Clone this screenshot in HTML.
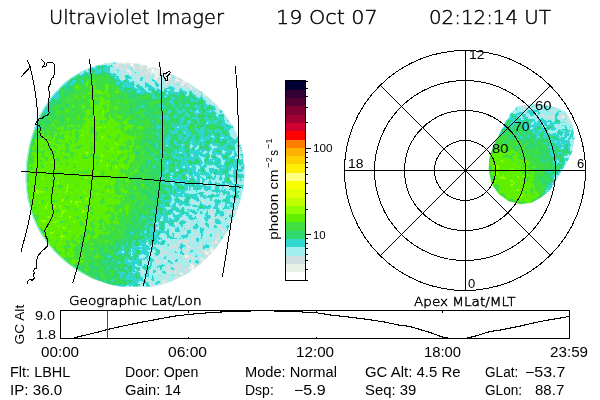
<!DOCTYPE html>
<html><head><meta charset="utf-8"><style>
html,body{margin:0;padding:0;background:#fff;width:600px;height:400px;overflow:hidden}
svg{display:block}
text{font-family:"Liberation Sans",sans-serif;fill:#000}
.h{font-family:"DejaVu Sans",sans-serif;font-weight:200;stroke:#000;stroke-width:0.45px}
.s,.c{font-family:"Liberation Sans",sans-serif}
</style></head><body>
<svg width="600" height="400" viewBox="0 0 600 400">
<rect width="600" height="400" fill="#fff"/>
<defs>
<clipPath id="dclip"><path d="M25.7 175.0 L25.8 171.3 L26.0 167.5 L26.3 163.8 L26.7 160.1 L27.2 156.4 L27.9 152.6 L28.5 149.0 L29.3 145.3 L30.2 141.6 L31.2 138.0 L32.3 134.3 L33.5 130.7 L34.8 127.1 L36.2 123.5 L37.7 120.0 L39.3 116.5 L41.1 113.0 L42.9 109.6 L44.9 106.2 L47.0 102.9 L49.3 99.6 L51.7 96.4 L54.2 93.4 L56.8 90.4 L59.6 87.5 L62.5 84.7 L65.5 82.1 L68.6 79.6 L71.9 77.2 L75.3 75.0 L78.7 73.0 L82.3 71.1 L86.0 69.4 L89.7 67.9 L93.5 66.5 L97.4 65.4 L101.3 64.4 L105.2 63.6 L109.2 63.0 L113.2 62.6 L117.2 62.3 L121.1 62.2 L125.1 62.3 L129.1 62.6 L133.0 63.0 L136.9 63.5 L140.8 64.2 L144.6 65.0 L148.3 65.9 L152.1 66.9 L155.7 68.0 L159.4 69.3 L162.9 70.6 L166.5 72.0 L170.0 73.5 L173.4 75.0 L176.8 76.6 L180.1 78.3 L183.4 80.1 L186.7 82.0 L189.9 83.9 L193.1 85.9 L196.2 88.0 L199.3 90.1 L202.4 92.3 L205.3 94.7 L208.3 97.1 L211.1 99.6 L213.9 102.1 L216.6 104.8 L219.3 107.6 L221.8 110.5 L224.2 113.5 L226.6 116.5 L228.8 119.7 L230.9 123.0 L232.9 126.3 L234.7 129.7 L236.4 133.2 L237.9 136.8 L239.3 140.5 L240.5 144.2 L241.6 147.9 L242.5 151.7 L243.2 155.6 L243.8 159.4 L244.2 163.3 L244.4 167.2 L244.5 171.1 L244.5 175.0 L244.3 178.9 L243.9 182.8 L243.4 186.6 L242.8 190.4 L242.0 194.2 L241.1 198.0 L240.1 201.7 L238.9 205.4 L237.7 209.0 L236.4 212.6 L234.9 216.2 L233.3 219.7 L231.7 223.1 L230.0 226.6 L228.1 229.9 L226.2 233.2 L224.2 236.5 L222.0 239.7 L219.8 242.8 L217.5 245.9 L215.1 248.9 L212.6 251.9 L210.0 254.8 L207.3 257.6 L204.5 260.3 L201.7 262.9 L198.7 265.4 L195.6 267.8 L192.4 270.1 L189.2 272.3 L185.8 274.4 L182.4 276.3 L178.9 278.1 L175.3 279.8 L171.7 281.3 L168.0 282.6 L164.2 283.8 L160.4 284.9 L156.5 285.8 L152.7 286.5 L148.8 286.8 L144.8 286.8 L140.9 286.8 L136.9 286.8 L133.0 286.8 L129.1 286.8 L125.2 286.8 L121.3 286.7 L117.4 286.1 L113.6 285.3 L109.8 284.4 L106.0 283.3 L102.3 282.1 L98.6 280.8 L95.0 279.4 L91.4 277.9 L87.9 276.2 L84.5 274.5 L81.1 272.6 L77.8 270.6 L74.6 268.5 L71.4 266.3 L68.3 264.1 L65.3 261.7 L62.4 259.2 L59.5 256.6 L56.8 253.9 L54.1 251.2 L51.6 248.3 L49.1 245.4 L46.8 242.4 L44.5 239.3 L42.4 236.1 L40.4 232.9 L38.5 229.5 L36.8 226.2 L35.2 222.7 L33.7 219.2 L32.3 215.7 L31.1 212.1 L30.0 208.5 L29.0 204.8 L28.2 201.1 L27.4 197.4 L26.9 193.7 L26.4 190.0 L26.1 186.2 L25.8 182.5 L25.7 178.7Z"/></clipPath>
<clipPath id="bclip"><polygon points="517.4,106.5 531.7,103.6 546,105 557.6,108 566.2,112.2 572,123.7 574.8,138 572,152.5 566.2,164 560.5,172.6 556,181.2 550.4,189.8 541.8,197 531.7,202.8 520.2,204.2 508.7,201.3 498.7,194.1 491.5,184 488.6,169.7 489.2,158.2 492.9,146.7 498.7,135.2 504.4,123.7 510.2,113.7"/></clipPath>
<filter id="qd" x="0" y="0" width="100%" height="100%" color-interpolation-filters="sRGB">
<feGaussianBlur in="SourceGraphic" stdDeviation="2.5" result="f"/>
<feComponentTransfer in="f" result="amp"><feFuncR type="linear" slope="-0.64" intercept="0.46"/><feFuncG type="linear" slope="-0.64" intercept="0.46"/><feFuncB type="linear" slope="-0.64" intercept="0.46"/></feComponentTransfer>
<feTurbulence type="fractalNoise" baseFrequency="0.2" numOctaves="2" seed="3"/>
<feColorMatrix type="matrix" values="1 0 0 0 0  1 0 0 0 0  1 0 0 0 0  0 0 0 0 1" result="n"/>
<feComposite in="n" in2="amp" operator="arithmetic" k1="1" k2="0" k3="-0.5" k4="0.5" result="nn"/>
<feComposite in="f" in2="nn" operator="arithmetic" k1="0" k2="1" k3="1" k4="-0.5"/>
<feComponentTransfer>
<feFuncR type="discrete" tableValues="1 0.91 0.816 0.627 0.188 0.188 0.251 0.376 0.565 0.753 0.878 0.973 1 1 1 1"/>
<feFuncG type="discrete" tableValues="1 0.941 0.878 0.941 0.847 0.847 0.878 0.941 1 1 1 1 1 0.933 0.816 0.69"/>
<feFuncB type="discrete" tableValues="1 0.91 0.878 0.941 0.816 0.439 0.251 0 0 0 0 0 0.502 0 0 0"/>
<feFuncA type="linear" slope="0" intercept="1"/>
</feComponentTransfer>
</filter>
<filter id="qb" x="0" y="0" width="100%" height="100%" color-interpolation-filters="sRGB">
<feGaussianBlur in="SourceGraphic" stdDeviation="2" result="f"/>
<feComponentTransfer in="f" result="amp"><feFuncR type="linear" slope="-0.64" intercept="0.46"/><feFuncG type="linear" slope="-0.64" intercept="0.46"/><feFuncB type="linear" slope="-0.64" intercept="0.46"/></feComponentTransfer>
<feTurbulence type="fractalNoise" baseFrequency="0.2" numOctaves="2" seed="7"/>
<feColorMatrix type="matrix" values="1 0 0 0 0  1 0 0 0 0  1 0 0 0 0  0 0 0 0 1" result="n"/>
<feComposite in="n" in2="amp" operator="arithmetic" k1="1" k2="0" k3="-0.5" k4="0.5" result="nn"/>
<feComposite in="f" in2="nn" operator="arithmetic" k1="0" k2="1" k3="1" k4="-0.5"/>
<feComponentTransfer>
<feFuncR type="discrete" tableValues="1 0.91 0.816 0.627 0.188 0.188 0.251 0.376 0.565 0.753 0.878 0.973 1 1 1 1"/>
<feFuncG type="discrete" tableValues="1 0.941 0.878 0.941 0.847 0.847 0.878 0.941 1 1 1 1 1 0.933 0.816 0.69"/>
<feFuncB type="discrete" tableValues="1 0.91 0.878 0.941 0.816 0.439 0.251 0 0 0 0 0 0.502 0 0 0"/>
<feFuncA type="linear" slope="0" intercept="1"/>
</feComponentTransfer>
</filter>
</defs>
<g clip-path="url(#dclip)"><g filter="url(#qd)" shape-rendering="crispEdges">
<path fill="#191919" d="M166 66h4v4h-4z"/>
<path fill="#1a1a1a" d="M158 62h4v4h-4zM162 62h4v4h-4zM158 66h4v4h-4zM162 66h4v4h-4zM170 66h4v4h-4zM166 70h4v4h-4z"/>
<path fill="#1b1b1b" d="M142 58h4v4h-4zM146 58h4v4h-4zM150 58h4v4h-4zM154 58h4v4h-4zM142 62h4v4h-4zM146 62h4v4h-4zM150 62h4v4h-4zM154 62h4v4h-4zM154 66h4v4h-4zM174 66h4v4h-4zM170 70h4v4h-4z"/>
<path fill="#1c1c1c" d="M138 58h4v4h-4zM138 62h4v4h-4zM150 66h4v4h-4zM174 70h4v4h-4zM174 74h4v4h-4z"/>
<path fill="#1d1d1d" d="M134 54h4v4h-4zM134 58h4v4h-4zM162 70h4v4h-4zM178 70h4v4h-4zM178 74h4v4h-4z"/>
<path fill="#1e1e1e" d="M126 54h4v4h-4zM130 54h4v4h-4zM126 58h4v4h-4zM130 58h4v4h-4zM134 62h4v4h-4zM146 66h4v4h-4zM182 70h4v4h-4zM170 74h4v4h-4zM182 74h4v4h-4z"/>
<path fill="#1f1f1f" d="M122 54h4v4h-4zM122 58h4v4h-4zM158 70h4v4h-4zM186 74h4v4h-4zM182 78h4v4h-4zM186 78h4v4h-4zM202 262h4v4h-4zM206 262h4v4h-4zM202 266h4v4h-4z"/>
<path fill="#202020" d="M130 62h4v4h-4zM142 66h4v4h-4zM166 74h4v4h-4zM190 74h4v4h-4zM190 78h4v4h-4zM190 82h4v4h-4zM206 258h4v4h-4zM210 262h4v4h-4zM194 266h4v4h-4zM198 266h4v4h-4zM198 270h4v4h-4z"/>
<path fill="#212121" d="M118 54h4v4h-4zM118 58h4v4h-4zM126 62h4v4h-4zM154 70h4v4h-4zM178 78h4v4h-4zM194 78h4v4h-4zM194 82h4v4h-4zM202 258h4v4h-4zM210 258h4v4h-4zM214 258h4v4h-4zM190 270h4v4h-4zM194 270h4v4h-4zM194 274h4v4h-4z"/>
<path fill="#222222" d="M122 62h4v4h-4zM138 66h4v4h-4zM162 74h4v4h-4zM198 82h4v4h-4zM210 254h4v4h-4zM214 254h4v4h-4zM190 274h4v4h-4z"/>
<path fill="#232323" d="M150 70h4v4h-4zM202 82h4v4h-4zM194 86h4v4h-4zM198 86h4v4h-4zM202 86h4v4h-4zM218 242h4v4h-4zM214 246h4v4h-4zM218 246h4v4h-4zM222 246h4v4h-4zM214 250h4v4h-4zM218 250h4v4h-4zM186 274h4v4h-4zM186 278h4v4h-4z"/>
<path fill="#242424" d="M118 62h4v4h-4zM134 66h4v4h-4zM146 70h4v4h-4zM174 78h4v4h-4zM206 86h4v4h-4zM202 90h4v4h-4zM206 90h4v4h-4zM210 90h4v4h-4zM206 94h4v4h-4zM210 94h4v4h-4zM222 238h4v4h-4zM222 242h4v4h-4zM226 242h4v4h-4zM210 250h4v4h-4zM198 262h4v4h-4zM182 274h4v4h-4zM182 278h4v4h-4zM182 282h4v4h-4z"/>
<path fill="#252525" d="M114 54h4v4h-4zM114 58h4v4h-4zM130 66h4v4h-4zM158 74h4v4h-4zM186 82h4v4h-4zM214 94h4v4h-4zM210 98h4v4h-4zM214 98h4v4h-4zM226 238h4v4h-4zM206 254h4v4h-4zM186 270h4v4h-4zM178 278h4v4h-4z"/>
<path fill="#262626" d="M142 70h4v4h-4zM170 78h4v4h-4zM218 98h4v4h-4zM214 102h4v4h-4zM218 102h4v4h-4zM226 230h4v4h-4zM222 234h4v4h-4zM226 234h4v4h-4zM190 266h4v4h-4zM178 282h4v4h-4z"/>
<path fill="#272727" d="M126 66h4v4h-4zM154 74h4v4h-4zM222 102h4v4h-4zM218 106h4v4h-4zM222 106h4v4h-4zM230 230h4v4h-4zM230 234h4v4h-4zM174 278h4v4h-4zM174 282h4v4h-4z"/>
<path fill="#282828" d="M122 66h4v4h-4zM138 70h4v4h-4zM166 78h4v4h-4zM182 82h4v4h-4zM226 106h4v4h-4zM222 110h4v4h-4zM226 110h4v4h-4zM230 110h4v4h-4zM226 114h4v4h-4zM230 222h4v4h-4zM234 222h4v4h-4zM238 222h4v4h-4zM230 226h4v4h-4zM234 226h4v4h-4zM198 258h4v4h-4zM194 262h4v4h-4zM174 286h4v4h-4z"/>
<path fill="#292929" d="M150 74h4v4h-4zM162 78h4v4h-4zM190 86h4v4h-4zM230 114h4v4h-4zM230 118h4v4h-4zM234 214h4v4h-4zM238 214h4v4h-4zM234 218h4v4h-4zM238 218h4v4h-4zM218 238h4v4h-4zM214 242h4v4h-4zM170 282h4v4h-4z"/>
<path fill="#2a2a2a" d="M114 62h4v4h-4zM118 66h4v4h-4zM134 70h4v4h-4zM234 118h4v4h-4zM230 122h4v4h-4zM234 122h4v4h-4zM238 122h4v4h-4zM238 210h4v4h-4zM242 210h4v4h-4zM206 250h4v4h-4zM202 254h4v4h-4zM182 270h4v4h-4zM178 274h4v4h-4zM170 286h4v4h-4z"/>
<path fill="#2b2b2b" d="M110 54h4v4h-4zM146 74h4v4h-4zM178 82h4v4h-4zM198 90h4v4h-4zM234 126h4v4h-4zM238 126h4v4h-4zM234 130h4v4h-4zM238 130h4v4h-4zM238 134h4v4h-4zM238 206h4v4h-4zM242 206h4v4h-4zM210 246h4v4h-4zM170 278h4v4h-4zM166 282h4v4h-4z"/>
<path fill="#2c2c2c" d="M110 58h4v4h-4zM130 70h4v4h-4zM142 74h4v4h-4zM158 78h4v4h-4zM202 94h4v4h-4zM242 130h4v4h-4zM242 134h4v4h-4zM238 138h4v4h-4zM242 138h4v4h-4zM242 142h4v4h-4zM246 142h4v4h-4zM238 202h4v4h-4zM234 210h4v4h-4zM230 218h4v4h-4zM226 226h4v4h-4zM222 230h4v4h-4zM166 286h4v4h-4z"/>
<path fill="#2d2d2d" d="M126 70h4v4h-4zM174 82h4v4h-4zM226 118h4v4h-4zM242 146h4v4h-4zM246 146h4v4h-4zM242 202h4v4h-4z"/>
<path fill="#2e2e2e" d="M138 74h4v4h-4zM154 78h4v4h-4zM186 86h4v4h-4zM238 142h4v4h-4zM242 150h4v4h-4zM242 198h4v4h-4zM246 198h4v4h-4zM162 282h4v4h-4z"/>
<path fill="#2f2f2f" d="M122 70h4v4h-4zM170 82h4v4h-4zM246 150h4v4h-4zM242 194h4v4h-4zM186 262h4v4h-4zM190 262h4v4h-4zM182 266h4v4h-4zM186 266h4v4h-4zM178 270h4v4h-4zM162 286h4v4h-4zM162 290h4v4h-4z"/>
<path fill="#303030" d="M106 54h4v4h-4zM110 62h4v4h-4zM134 74h4v4h-4zM150 78h4v4h-4zM166 82h4v4h-4zM242 154h4v4h-4zM246 154h4v4h-4zM242 190h4v4h-4zM246 190h4v4h-4zM246 194h4v4h-4zM234 206h4v4h-4zM226 222h4v4h-4zM218 234h4v4h-4zM178 258h4v4h-4zM182 258h4v4h-4zM186 258h4v4h-4zM190 258h4v4h-4zM194 258h4v4h-4zM174 262h4v4h-4zM178 262h4v4h-4zM182 262h4v4h-4zM174 266h4v4h-4zM178 266h4v4h-4zM174 270h4v4h-4zM174 274h4v4h-4zM166 278h4v4h-4z"/>
<path fill="#313131" d="M106 58h4v4h-4zM114 66h4v4h-4zM118 70h4v4h-4zM146 78h4v4h-4zM162 82h4v4h-4zM194 90h4v4h-4zM242 158h4v4h-4zM242 182h4v4h-4zM246 182h4v4h-4zM242 186h4v4h-4zM246 186h4v4h-4zM230 214h4v4h-4zM214 238h4v4h-4zM182 250h4v4h-4zM186 250h4v4h-4zM190 250h4v4h-4zM178 254h4v4h-4zM182 254h4v4h-4zM186 254h4v4h-4zM190 254h4v4h-4zM194 254h4v4h-4zM198 254h4v4h-4zM174 258h4v4h-4zM170 262h4v4h-4zM170 266h4v4h-4zM166 270h4v4h-4zM170 270h4v4h-4zM170 274h4v4h-4zM158 286h4v4h-4zM158 290h4v4h-4z"/>
<path fill="#323232" d="M130 74h4v4h-4zM246 158h4v4h-4zM246 178h4v4h-4zM250 178h4v4h-4zM238 198h4v4h-4zM182 246h4v4h-4zM186 246h4v4h-4zM190 246h4v4h-4zM174 250h4v4h-4zM178 250h4v4h-4zM194 250h4v4h-4zM198 250h4v4h-4zM170 254h4v4h-4zM174 254h4v4h-4zM166 258h4v4h-4zM170 258h4v4h-4zM166 262h4v4h-4zM166 266h4v4h-4zM166 274h4v4h-4zM158 282h4v4h-4z"/>
<path fill="#333333" d="M142 78h4v4h-4zM158 82h4v4h-4zM182 86h4v4h-4zM206 98h4v4h-4zM210 102h4v4h-4zM230 126h4v4h-4zM238 146h4v4h-4zM246 162h4v4h-4zM250 162h4v4h-4zM250 166h4v4h-4zM246 170h4v4h-4zM250 170h4v4h-4zM246 174h4v4h-4zM250 174h4v4h-4zM222 226h4v4h-4zM182 242h4v4h-4zM186 242h4v4h-4zM190 242h4v4h-4zM174 246h4v4h-4zM178 246h4v4h-4zM194 246h4v4h-4zM198 246h4v4h-4zM170 250h4v4h-4zM202 250h4v4h-4zM166 254h4v4h-4zM162 262h4v4h-4zM162 266h4v4h-4zM162 270h4v4h-4zM162 274h4v4h-4zM154 286h4v4h-4zM154 290h4v4h-4z"/>
<path fill="#343434" d="M126 74h4v4h-4zM138 78h4v4h-4zM218 110h4v4h-4zM246 166h4v4h-4zM186 238h4v4h-4zM190 238h4v4h-4zM178 242h4v4h-4zM194 242h4v4h-4zM198 242h4v4h-4zM170 246h4v4h-4zM202 246h4v4h-4zM166 250h4v4h-4zM162 258h4v4h-4zM162 278h4v4h-4z"/>
<path fill="#353535" d="M102 54h4v4h-4zM222 114h4v4h-4zM234 134h4v4h-4zM242 162h4v4h-4zM242 178h4v4h-4zM238 194h4v4h-4zM234 202h4v4h-4zM186 234h4v4h-4zM190 234h4v4h-4zM178 238h4v4h-4zM182 238h4v4h-4zM194 238h4v4h-4zM198 238h4v4h-4zM174 242h4v4h-4zM202 242h4v4h-4zM210 242h4v4h-4zM206 246h4v4h-4zM162 254h4v4h-4zM158 262h4v4h-4zM158 266h4v4h-4zM158 270h4v4h-4zM158 274h4v4h-4zM150 286h4v4h-4zM150 290h4v4h-4z"/>
<path fill="#363636" d="M106 62h4v4h-4zM122 74h4v4h-4zM154 82h4v4h-4zM178 86h4v4h-4zM242 166h4v4h-4zM242 174h4v4h-4zM190 230h4v4h-4zM182 234h4v4h-4zM194 234h4v4h-4zM198 234h4v4h-4zM202 234h4v4h-4zM174 238h4v4h-4zM202 238h4v4h-4zM206 238h4v4h-4zM210 238h4v4h-4zM170 242h4v4h-4zM206 242h4v4h-4zM166 246h4v4h-4zM162 250h4v4h-4zM158 258h4v4h-4zM158 278h4v4h-4zM154 282h4v4h-4z"/>
<path fill="#373737" d="M102 58h4v4h-4zM134 78h4v4h-4zM190 90h4v4h-4zM242 170h4v4h-4zM230 210h4v4h-4zM226 218h4v4h-4zM182 230h4v4h-4zM186 230h4v4h-4zM194 230h4v4h-4zM198 230h4v4h-4zM202 230h4v4h-4zM206 230h4v4h-4zM210 230h4v4h-4zM178 234h4v4h-4zM206 234h4v4h-4zM210 234h4v4h-4zM214 234h4v4h-4zM162 246h4v4h-4zM158 254h4v4h-4zM154 266h4v4h-4zM154 270h4v4h-4zM154 274h4v4h-4zM154 278h4v4h-4zM146 286h4v4h-4zM146 290h4v4h-4z"/>
<path fill="#383838" d="M110 66h4v4h-4zM150 82h4v4h-4zM174 86h4v4h-4zM198 94h4v4h-4zM214 106h4v4h-4zM238 150h4v4h-4zM238 190h4v4h-4zM202 222h4v4h-4zM206 222h4v4h-4zM210 222h4v4h-4zM182 226h4v4h-4zM186 226h4v4h-4zM190 226h4v4h-4zM194 226h4v4h-4zM198 226h4v4h-4zM202 226h4v4h-4zM206 226h4v4h-4zM210 226h4v4h-4zM214 226h4v4h-4zM178 230h4v4h-4zM214 230h4v4h-4zM218 230h4v4h-4zM174 234h4v4h-4zM170 238h4v4h-4zM166 242h4v4h-4zM158 250h4v4h-4zM154 258h4v4h-4zM154 262h4v4h-4z"/>
<path fill="#393939" d="M114 70h4v4h-4zM118 74h4v4h-4zM146 82h4v4h-4zM170 86h4v4h-4zM226 122h4v4h-4zM202 218h4v4h-4zM206 218h4v4h-4zM210 218h4v4h-4zM214 218h4v4h-4zM186 222h4v4h-4zM190 222h4v4h-4zM194 222h4v4h-4zM198 222h4v4h-4zM214 222h4v4h-4zM218 222h4v4h-4zM178 226h4v4h-4zM218 226h4v4h-4zM174 230h4v4h-4zM170 234h4v4h-4zM166 238h4v4h-4zM154 254h4v4h-4zM150 274h4v4h-4zM150 278h4v4h-4zM150 282h4v4h-4z"/>
<path fill="#3a3a3a" d="M130 78h4v4h-4zM142 82h4v4h-4zM162 86h4v4h-4zM166 86h4v4h-4zM234 138h4v4h-4zM202 214h4v4h-4zM206 214h4v4h-4zM210 214h4v4h-4zM214 214h4v4h-4zM194 218h4v4h-4zM198 218h4v4h-4zM218 218h4v4h-4zM182 222h4v4h-4zM222 222h4v4h-4zM162 242h4v4h-4zM158 246h4v4h-4zM154 250h4v4h-4zM150 262h4v4h-4zM150 266h4v4h-4zM150 270h4v4h-4zM142 286h4v4h-4zM142 290h4v4h-4z"/>
<path fill="#3b3b3b" d="M102 62h4v4h-4zM138 82h4v4h-4zM158 86h4v4h-4zM234 198h4v4h-4zM206 206h4v4h-4zM210 206h4v4h-4zM202 210h4v4h-4zM206 210h4v4h-4zM210 210h4v4h-4zM214 210h4v4h-4zM198 214h4v4h-4zM218 214h4v4h-4zM222 214h4v4h-4zM186 218h4v4h-4zM190 218h4v4h-4zM222 218h4v4h-4zM178 222h4v4h-4zM174 226h4v4h-4zM170 230h4v4h-4zM166 234h4v4h-4zM150 254h4v4h-4zM150 258h4v4h-4zM146 278h4v4h-4zM146 282h4v4h-4z"/>
<path fill="#3c3c3c" d="M98 58h4v4h-4zM126 78h4v4h-4zM186 90h4v4h-4zM230 130h4v4h-4zM238 154h4v4h-4zM238 186h4v4h-4zM206 202h4v4h-4zM210 202h4v4h-4zM214 202h4v4h-4zM202 206h4v4h-4zM214 206h4v4h-4zM218 206h4v4h-4zM198 210h4v4h-4zM218 210h4v4h-4zM222 210h4v4h-4zM190 214h4v4h-4zM194 214h4v4h-4zM226 214h4v4h-4zM182 218h4v4h-4zM170 226h4v4h-4zM162 238h4v4h-4zM158 242h4v4h-4zM154 246h4v4h-4zM146 270h4v4h-4zM146 274h4v4h-4z"/>
<path fill="#3d3d3d" d="M202 198h4v4h-4zM206 198h4v4h-4zM210 198h4v4h-4zM214 198h4v4h-4zM198 202h4v4h-4zM202 202h4v4h-4zM218 202h4v4h-4zM194 206h4v4h-4zM198 206h4v4h-4zM222 206h4v4h-4zM226 206h4v4h-4zM190 210h4v4h-4zM194 210h4v4h-4zM226 210h4v4h-4zM182 214h4v4h-4zM186 214h4v4h-4zM178 218h4v4h-4zM174 222h4v4h-4zM166 230h4v4h-4zM150 250h4v4h-4zM146 258h4v4h-4zM146 262h4v4h-4zM146 266h4v4h-4zM142 282h4v4h-4z"/>
<path fill="#3e3e3e" d="M98 62h4v4h-4zM106 66h4v4h-4zM122 78h4v4h-4zM134 82h4v4h-4zM154 86h4v4h-4zM238 182h4v4h-4zM202 194h4v4h-4zM206 194h4v4h-4zM210 194h4v4h-4zM214 194h4v4h-4zM198 198h4v4h-4zM218 198h4v4h-4zM194 202h4v4h-4zM222 202h4v4h-4zM226 202h4v4h-4zM190 206h4v4h-4zM230 206h4v4h-4zM186 210h4v4h-4zM174 218h4v4h-4zM170 222h4v4h-4zM166 226h4v4h-4zM162 234h4v4h-4zM146 254h4v4h-4zM142 278h4v4h-4zM138 290h4v4h-4z"/>
<path fill="#3f3f3f" d="M90 58h4v4h-4zM94 58h4v4h-4zM90 62h4v4h-4zM94 62h4v4h-4zM202 98h4v4h-4zM210 186h4v4h-4zM202 190h4v4h-4zM206 190h4v4h-4zM210 190h4v4h-4zM214 190h4v4h-4zM198 194h4v4h-4zM218 194h4v4h-4zM194 198h4v4h-4zM222 198h4v4h-4zM226 198h4v4h-4zM190 202h4v4h-4zM230 202h4v4h-4zM186 206h4v4h-4zM182 210h4v4h-4zM178 214h4v4h-4zM162 230h4v4h-4zM158 238h4v4h-4zM154 242h4v4h-4zM150 246h4v4h-4zM146 250h4v4h-4zM142 274h4v4h-4zM138 286h4v4h-4z"/>
<path fill="#404040" d="M78 62h4v4h-4zM82 62h4v4h-4zM86 62h4v4h-4zM86 66h4v4h-4zM150 86h4v4h-4zM222 118h4v4h-4zM238 158h4v4h-4zM238 178h4v4h-4zM206 182h4v4h-4zM210 182h4v4h-4zM214 182h4v4h-4zM202 186h4v4h-4zM206 186h4v4h-4zM214 186h4v4h-4zM218 186h4v4h-4zM198 190h4v4h-4zM218 190h4v4h-4zM222 190h4v4h-4zM194 194h4v4h-4zM222 194h4v4h-4zM226 194h4v4h-4zM190 198h4v4h-4zM230 198h4v4h-4zM186 202h4v4h-4zM182 206h4v4h-4zM178 210h4v4h-4zM174 214h4v4h-4zM170 218h4v4h-4zM166 222h4v4h-4zM142 266h4v4h-4zM142 270h4v4h-4z"/>
<path fill="#414141" d="M70 66h4v4h-4zM74 66h4v4h-4zM78 66h4v4h-4zM82 66h4v4h-4zM66 70h4v4h-4zM70 70h4v4h-4zM74 70h4v4h-4zM78 70h4v4h-4zM110 70h4v4h-4zM130 82h4v4h-4zM146 86h4v4h-4zM234 142h4v4h-4zM202 178h4v4h-4zM206 178h4v4h-4zM210 178h4v4h-4zM214 178h4v4h-4zM218 178h4v4h-4zM202 182h4v4h-4zM218 182h4v4h-4zM198 186h4v4h-4zM222 186h4v4h-4zM194 190h4v4h-4zM226 190h4v4h-4zM190 194h4v4h-4zM230 194h4v4h-4zM186 198h4v4h-4zM182 202h4v4h-4zM178 206h4v4h-4zM174 210h4v4h-4zM162 226h4v4h-4zM158 234h4v4h-4zM146 246h4v4h-4zM142 254h4v4h-4zM142 258h4v4h-4zM142 262h4v4h-4zM138 282h4v4h-4z"/>
<path fill="#424242" d="M62 74h4v4h-4zM66 74h4v4h-4zM70 74h4v4h-4zM62 78h4v4h-4zM66 78h4v4h-4zM142 86h4v4h-4zM182 90h4v4h-4zM194 94h4v4h-4zM206 174h4v4h-4zM210 174h4v4h-4zM214 174h4v4h-4zM198 178h4v4h-4zM222 178h4v4h-4zM198 182h4v4h-4zM222 182h4v4h-4zM226 182h4v4h-4zM194 186h4v4h-4zM226 186h4v4h-4zM190 190h4v4h-4zM230 190h4v4h-4zM234 190h4v4h-4zM186 194h4v4h-4zM234 194h4v4h-4zM170 214h4v4h-4zM166 218h4v4h-4zM154 238h4v4h-4zM150 242h4v4h-4zM142 250h4v4h-4zM138 278h4v4h-4z"/>
<path fill="#434343" d="M114 74h4v4h-4zM54 78h4v4h-4zM58 78h4v4h-4zM118 78h4v4h-4zM54 82h4v4h-4zM58 82h4v4h-4zM138 86h4v4h-4zM238 162h4v4h-4zM206 170h4v4h-4zM210 170h4v4h-4zM214 170h4v4h-4zM202 174h4v4h-4zM218 174h4v4h-4zM238 174h4v4h-4zM226 178h4v4h-4zM194 182h4v4h-4zM230 182h4v4h-4zM190 186h4v4h-4zM230 186h4v4h-4zM234 186h4v4h-4zM186 190h4v4h-4zM182 198h4v4h-4zM178 202h4v4h-4zM174 206h4v4h-4zM170 210h4v4h-4zM162 222h4v4h-4zM158 230h4v4h-4zM138 274h4v4h-4z"/>
<path fill="#444444" d="M102 66h4v4h-4zM50 82h4v4h-4zM126 82h4v4h-4zM50 86h4v4h-4zM54 86h4v4h-4zM46 90h4v4h-4zM50 90h4v4h-4zM42 94h4v4h-4zM46 94h4v4h-4zM50 94h4v4h-4zM38 98h4v4h-4zM42 98h4v4h-4zM46 98h4v4h-4zM38 102h4v4h-4zM42 102h4v4h-4zM206 102h4v4h-4zM206 162h4v4h-4zM210 162h4v4h-4zM206 166h4v4h-4zM210 166h4v4h-4zM214 166h4v4h-4zM238 166h4v4h-4zM202 170h4v4h-4zM218 170h4v4h-4zM238 170h4v4h-4zM198 174h4v4h-4zM222 174h4v4h-4zM190 178h4v4h-4zM194 178h4v4h-4zM230 178h4v4h-4zM190 182h4v4h-4zM234 182h4v4h-4zM186 186h4v4h-4zM182 194h4v4h-4zM178 198h4v4h-4zM166 214h4v4h-4zM158 226h4v4h-4zM154 234h4v4h-4zM142 246h4v4h-4zM138 258h4v4h-4zM138 266h4v4h-4zM138 270h4v4h-4z"/>
<path fill="#454545" d="M74 74h4v4h-4zM58 86h4v4h-4zM38 106h4v4h-4zM218 114h4v4h-4zM206 154h4v4h-4zM210 154h4v4h-4zM206 158h4v4h-4zM210 158h4v4h-4zM214 158h4v4h-4zM202 162h4v4h-4zM214 162h4v4h-4zM202 166h4v4h-4zM198 170h4v4h-4zM222 170h4v4h-4zM194 174h4v4h-4zM226 174h4v4h-4zM234 178h4v4h-4zM186 182h4v4h-4zM182 190h4v4h-4zM174 202h4v4h-4zM170 206h4v4h-4zM162 218h4v4h-4zM150 238h4v4h-4zM146 242h4v4h-4zM138 250h4v4h-4zM138 254h4v4h-4zM138 262h4v4h-4zM134 286h4v4h-4zM134 290h4v4h-4z"/>
<path fill="#464646" d="M90 66h4v4h-4zM82 70h4v4h-4zM134 86h4v4h-4zM158 90h4v4h-4zM162 90h4v4h-4zM178 90h4v4h-4zM34 106h4v4h-4zM38 110h4v4h-4zM226 126h4v4h-4zM230 134h4v4h-4zM202 150h4v4h-4zM206 150h4v4h-4zM210 150h4v4h-4zM214 150h4v4h-4zM202 154h4v4h-4zM214 154h4v4h-4zM202 158h4v4h-4zM218 162h4v4h-4zM198 166h4v4h-4zM218 166h4v4h-4zM190 174h4v4h-4zM230 174h4v4h-4zM234 174h4v4h-4zM186 178h4v4h-4zM182 182h4v4h-4zM182 186h4v4h-4zM178 194h4v4h-4zM166 210h4v4h-4zM154 230h4v4h-4zM134 282h4v4h-4z"/>
<path fill="#474747" d="M94 66h4v4h-4zM62 82h4v4h-4zM122 82h4v4h-4zM166 90h4v4h-4zM170 90h4v4h-4zM174 90h4v4h-4zM34 110h4v4h-4zM206 146h4v4h-4zM210 146h4v4h-4zM198 154h4v4h-4zM218 154h4v4h-4zM198 158h4v4h-4zM218 158h4v4h-4zM198 162h4v4h-4zM222 166h4v4h-4zM194 170h4v4h-4zM226 170h4v4h-4zM186 174h4v4h-4zM182 178h4v4h-4zM178 190h4v4h-4zM174 198h4v4h-4zM170 202h4v4h-4zM158 222h4v4h-4zM134 274h4v4h-4zM134 278h4v4h-4z"/>
<path fill="#484848" d="M154 90h4v4h-4zM46 102h4v4h-4zM202 146h4v4h-4zM214 146h4v4h-4zM198 150h4v4h-4zM218 150h4v4h-4zM222 158h4v4h-4zM194 162h4v4h-4zM222 162h4v4h-4zM194 166h4v4h-4zM226 166h4v4h-4zM190 170h4v4h-4zM230 170h4v4h-4zM234 170h4v4h-4zM178 182h4v4h-4zM178 186h4v4h-4zM174 194h4v4h-4zM166 206h4v4h-4zM162 214h4v4h-4zM154 226h4v4h-4zM150 234h4v4h-4zM142 242h4v4h-4zM138 246h4v4h-4zM134 254h4v4h-4zM134 258h4v4h-4zM134 262h4v4h-4zM134 266h4v4h-4zM134 270h4v4h-4z"/>
<path fill="#494949" d="M98 66h4v4h-4zM106 70h4v4h-4zM54 90h4v4h-4zM214 110h4v4h-4zM34 114h4v4h-4zM198 146h4v4h-4zM218 146h4v4h-4zM234 146h4v4h-4zM194 150h4v4h-4zM222 150h4v4h-4zM194 154h4v4h-4zM222 154h4v4h-4zM194 158h4v4h-4zM226 158h4v4h-4zM226 162h4v4h-4zM190 166h4v4h-4zM230 166h4v4h-4zM234 166h4v4h-4zM186 170h4v4h-4zM182 174h4v4h-4zM178 178h4v4h-4zM174 190h4v4h-4zM170 198h4v4h-4zM158 218h4v4h-4zM146 238h4v4h-4zM134 250h4v4h-4z"/>
<path fill="#4a4a4a" d="M86 70h4v4h-4zM70 78h4v4h-4zM130 86h4v4h-4zM150 90h4v4h-4zM42 106h4v4h-4zM210 106h4v4h-4zM30 114h4v4h-4zM38 114h4v4h-4zM34 118h4v4h-4zM202 142h4v4h-4zM206 142h4v4h-4zM210 142h4v4h-4zM194 146h4v4h-4zM222 146h4v4h-4zM190 150h4v4h-4zM226 150h4v4h-4zM190 154h4v4h-4zM226 154h4v4h-4zM230 154h4v4h-4zM190 158h4v4h-4zM230 158h4v4h-4zM234 158h4v4h-4zM190 162h4v4h-4zM230 162h4v4h-4zM234 162h4v4h-4zM186 166h4v4h-4zM182 170h4v4h-4zM178 174h4v4h-4zM174 182h4v4h-4zM174 186h4v4h-4zM166 202h4v4h-4zM162 210h4v4h-4zM150 230h4v4h-4z"/>
<path fill="#4b4b4b" d="M78 74h4v4h-4zM66 82h4v4h-4zM142 90h4v4h-4zM146 90h4v4h-4zM190 94h4v4h-4zM30 118h4v4h-4zM198 142h4v4h-4zM214 142h4v4h-4zM190 146h4v4h-4zM226 146h4v4h-4zM230 146h4v4h-4zM186 150h4v4h-4zM230 150h4v4h-4zM234 150h4v4h-4zM186 154h4v4h-4zM234 154h4v4h-4zM186 158h4v4h-4zM186 162h4v4h-4zM182 166h4v4h-4zM174 178h4v4h-4zM170 190h4v4h-4zM170 194h4v4h-4zM154 222h4v4h-4zM146 234h4v4h-4zM138 242h4v4h-4zM134 246h4v4h-4zM130 270h4v4h-4zM130 274h4v4h-4zM130 278h4v4h-4zM130 282h4v4h-4zM130 286h4v4h-4zM130 290h4v4h-4z"/>
<path fill="#4c4c4c" d="M110 74h4v4h-4zM138 90h4v4h-4zM50 98h4v4h-4zM34 122h4v4h-4zM190 142h4v4h-4zM194 142h4v4h-4zM218 142h4v4h-4zM222 142h4v4h-4zM226 142h4v4h-4zM230 142h4v4h-4zM186 146h4v4h-4zM182 150h4v4h-4zM182 154h4v4h-4zM182 158h4v4h-4zM182 162h4v4h-4zM178 170h4v4h-4zM174 174h4v4h-4zM170 182h4v4h-4zM170 186h4v4h-4zM166 198h4v4h-4zM162 206h4v4h-4zM158 214h4v4h-4zM150 226h4v4h-4zM142 238h4v4h-4zM130 250h4v4h-4zM130 254h4v4h-4zM130 258h4v4h-4zM130 262h4v4h-4zM130 266h4v4h-4z"/>
<path fill="#4d4d4d" d="M62 86h4v4h-4zM54 94h4v4h-4zM26 122h4v4h-4zM30 122h4v4h-4zM190 138h4v4h-4zM194 138h4v4h-4zM198 138h4v4h-4zM202 138h4v4h-4zM206 138h4v4h-4zM210 138h4v4h-4zM214 138h4v4h-4zM182 142h4v4h-4zM186 142h4v4h-4zM182 146h4v4h-4zM178 150h4v4h-4zM178 154h4v4h-4zM178 158h4v4h-4zM178 162h4v4h-4zM178 166h4v4h-4zM174 170h4v4h-4zM170 178h4v4h-4zM166 194h4v4h-4zM154 218h4v4h-4z"/>
<path fill="#4e4e4e" d="M90 70h4v4h-4zM114 78h4v4h-4zM118 82h4v4h-4zM126 86h4v4h-4zM58 90h4v4h-4zM42 110h4v4h-4zM30 126h4v4h-4zM182 130h4v4h-4zM186 130h4v4h-4zM190 130h4v4h-4zM194 130h4v4h-4zM198 130h4v4h-4zM178 134h4v4h-4zM182 134h4v4h-4zM186 134h4v4h-4zM190 134h4v4h-4zM194 134h4v4h-4zM198 134h4v4h-4zM202 134h4v4h-4zM206 134h4v4h-4zM178 138h4v4h-4zM182 138h4v4h-4zM186 138h4v4h-4zM218 138h4v4h-4zM222 138h4v4h-4zM226 138h4v4h-4zM230 138h4v4h-4zM178 142h4v4h-4zM178 146h4v4h-4zM174 158h4v4h-4zM174 162h4v4h-4zM174 166h4v4h-4zM170 174h4v4h-4zM166 182h4v4h-4zM166 186h4v4h-4zM166 190h4v4h-4zM162 202h4v4h-4zM158 210h4v4h-4zM150 222h4v4h-4zM146 230h4v4h-4zM134 242h4v4h-4zM130 246h4v4h-4zM126 254h4v4h-4zM126 258h4v4h-4zM126 262h4v4h-4zM126 266h4v4h-4zM126 270h4v4h-4zM126 274h4v4h-4zM126 286h4v4h-4z"/>
<path fill="#4f4f4f" d="M46 106h4v4h-4zM178 122h4v4h-4zM182 122h4v4h-4zM186 122h4v4h-4zM190 122h4v4h-4zM194 122h4v4h-4zM198 122h4v4h-4zM26 126h4v4h-4zM174 126h4v4h-4zM178 126h4v4h-4zM182 126h4v4h-4zM186 126h4v4h-4zM190 126h4v4h-4zM194 126h4v4h-4zM198 126h4v4h-4zM202 126h4v4h-4zM206 126h4v4h-4zM174 130h4v4h-4zM178 130h4v4h-4zM202 130h4v4h-4zM206 130h4v4h-4zM210 130h4v4h-4zM214 130h4v4h-4zM170 134h4v4h-4zM174 134h4v4h-4zM210 134h4v4h-4zM214 134h4v4h-4zM218 134h4v4h-4zM222 134h4v4h-4zM226 134h4v4h-4zM170 138h4v4h-4zM174 138h4v4h-4zM170 142h4v4h-4zM174 142h4v4h-4zM174 146h4v4h-4zM174 150h4v4h-4zM174 154h4v4h-4zM170 166h4v4h-4zM170 170h4v4h-4zM166 178h4v4h-4zM146 226h4v4h-4zM142 234h4v4h-4zM138 238h4v4h-4zM126 250h4v4h-4zM126 278h4v4h-4zM126 282h4v4h-4zM126 290h4v4h-4z"/>
<path fill="#505050" d="M102 70h4v4h-4zM134 90h4v4h-4zM198 98h4v4h-4zM178 118h4v4h-4zM182 118h4v4h-4zM186 118h4v4h-4zM190 118h4v4h-4zM194 118h4v4h-4zM198 118h4v4h-4zM202 118h4v4h-4zM206 118h4v4h-4zM210 118h4v4h-4zM214 118h4v4h-4zM218 118h4v4h-4zM170 122h4v4h-4zM174 122h4v4h-4zM202 122h4v4h-4zM206 122h4v4h-4zM210 122h4v4h-4zM214 122h4v4h-4zM218 122h4v4h-4zM222 122h4v4h-4zM170 126h4v4h-4zM210 126h4v4h-4zM214 126h4v4h-4zM218 126h4v4h-4zM222 126h4v4h-4zM30 130h4v4h-4zM170 130h4v4h-4zM218 130h4v4h-4zM222 130h4v4h-4zM226 130h4v4h-4zM170 146h4v4h-4zM170 150h4v4h-4zM170 154h4v4h-4zM170 158h4v4h-4zM170 162h4v4h-4zM166 170h4v4h-4zM166 174h4v4h-4zM162 198h4v4h-4zM154 214h4v4h-4zM126 246h4v4h-4zM122 286h4v4h-4z"/>
<path fill="#515151" d="M82 74h4v4h-4zM74 78h4v4h-4zM122 86h4v4h-4zM202 106h4v4h-4zM206 106h4v4h-4zM186 110h4v4h-4zM190 110h4v4h-4zM194 110h4v4h-4zM198 110h4v4h-4zM202 110h4v4h-4zM206 110h4v4h-4zM210 110h4v4h-4zM174 114h4v4h-4zM178 114h4v4h-4zM182 114h4v4h-4zM186 114h4v4h-4zM190 114h4v4h-4zM194 114h4v4h-4zM198 114h4v4h-4zM202 114h4v4h-4zM206 114h4v4h-4zM210 114h4v4h-4zM214 114h4v4h-4zM38 118h4v4h-4zM170 118h4v4h-4zM174 118h4v4h-4zM166 126h4v4h-4zM26 130h4v4h-4zM166 130h4v4h-4zM166 134h4v4h-4zM166 138h4v4h-4zM166 142h4v4h-4zM166 146h4v4h-4zM166 150h4v4h-4zM166 154h4v4h-4zM166 158h4v4h-4zM166 162h4v4h-4zM166 166h4v4h-4zM162 178h4v4h-4zM162 182h4v4h-4zM162 186h4v4h-4zM162 190h4v4h-4zM162 194h4v4h-4zM158 206h4v4h-4zM150 218h4v4h-4zM146 222h4v4h-4zM142 230h4v4h-4zM138 234h4v4h-4zM134 238h4v4h-4zM130 242h4v4h-4zM122 250h4v4h-4zM122 254h4v4h-4zM122 258h4v4h-4zM122 262h4v4h-4zM122 266h4v4h-4zM122 270h4v4h-4zM122 274h4v4h-4zM122 278h4v4h-4zM118 286h4v4h-4zM122 290h4v4h-4z"/>
<path fill="#525252" d="M94 70h4v4h-4zM194 102h4v4h-4zM198 102h4v4h-4zM202 102h4v4h-4zM178 106h4v4h-4zM182 106h4v4h-4zM186 106h4v4h-4zM190 106h4v4h-4zM194 106h4v4h-4zM198 106h4v4h-4zM174 110h4v4h-4zM178 110h4v4h-4zM182 110h4v4h-4zM170 114h4v4h-4zM166 118h4v4h-4zM166 122h4v4h-4zM162 170h4v4h-4zM162 174h4v4h-4zM158 202h4v4h-4zM142 226h4v4h-4zM122 282h4v4h-4zM110 286h4v4h-4zM114 286h4v4h-4zM110 290h4v4h-4zM114 290h4v4h-4zM118 290h4v4h-4z"/>
<path fill="#535353" d="M70 82h4v4h-4zM182 98h4v4h-4zM186 98h4v4h-4zM190 98h4v4h-4zM194 98h4v4h-4zM174 102h4v4h-4zM178 102h4v4h-4zM182 102h4v4h-4zM186 102h4v4h-4zM190 102h4v4h-4zM170 106h4v4h-4zM174 106h4v4h-4zM170 110h4v4h-4zM166 114h4v4h-4zM34 126h4v4h-4zM162 142h4v4h-4zM162 146h4v4h-4zM162 150h4v4h-4zM162 154h4v4h-4zM162 158h4v4h-4zM162 162h4v4h-4zM162 166h4v4h-4zM154 210h4v4h-4zM138 230h4v4h-4zM126 242h4v4h-4zM122 246h4v4h-4zM118 254h4v4h-4zM118 258h4v4h-4zM118 262h4v4h-4zM118 266h4v4h-4zM118 270h4v4h-4zM78 274h4v4h-4zM82 274h4v4h-4zM118 274h4v4h-4zM78 278h4v4h-4zM82 278h4v4h-4zM86 278h4v4h-4zM90 278h4v4h-4zM86 282h4v4h-4zM90 282h4v4h-4zM102 282h4v4h-4zM106 282h4v4h-4zM94 286h4v4h-4zM102 286h4v4h-4zM106 286h4v4h-4zM106 290h4v4h-4z"/>
<path fill="#545454" d="M130 90h4v4h-4zM178 94h4v4h-4zM182 94h4v4h-4zM186 94h4v4h-4zM174 98h4v4h-4zM178 98h4v4h-4zM50 102h4v4h-4zM170 102h4v4h-4zM166 106h4v4h-4zM166 110h4v4h-4zM162 118h4v4h-4zM162 122h4v4h-4zM162 126h4v4h-4zM162 130h4v4h-4zM26 134h4v4h-4zM162 134h4v4h-4zM162 138h4v4h-4zM158 194h4v4h-4zM158 198h4v4h-4zM150 214h4v4h-4zM146 218h4v4h-4zM142 222h4v4h-4zM134 234h4v4h-4zM130 238h4v4h-4zM118 250h4v4h-4zM78 270h4v4h-4zM74 274h4v4h-4zM86 274h4v4h-4zM94 278h4v4h-4zM118 278h4v4h-4zM94 282h4v4h-4zM98 282h4v4h-4zM118 282h4v4h-4zM98 286h4v4h-4z"/>
<path fill="#555555" d="M98 70h4v4h-4zM158 94h4v4h-4zM174 94h4v4h-4zM54 98h4v4h-4zM170 98h4v4h-4zM166 102h4v4h-4zM162 110h4v4h-4zM42 114h4v4h-4zM162 114h4v4h-4zM22 134h4v4h-4zM158 154h4v4h-4zM158 158h4v4h-4zM158 162h4v4h-4zM158 166h4v4h-4zM158 170h4v4h-4zM158 174h4v4h-4zM158 178h4v4h-4zM158 182h4v4h-4zM158 186h4v4h-4zM158 190h4v4h-4zM154 206h4v4h-4zM138 226h4v4h-4zM114 258h4v4h-4zM114 262h4v4h-4zM114 266h4v4h-4zM114 270h4v4h-4zM114 274h4v4h-4z"/>
<path fill="#565656" d="M106 74h4v4h-4zM154 94h4v4h-4zM170 94h4v4h-4zM166 98h4v4h-4zM162 102h4v4h-4zM162 106h4v4h-4zM26 138h4v4h-4zM158 146h4v4h-4zM158 150h4v4h-4zM154 202h4v4h-4zM142 218h4v4h-4zM138 222h4v4h-4zM134 230h4v4h-4zM122 242h4v4h-4zM118 246h4v4h-4zM114 254h4v4h-4zM74 270h4v4h-4zM70 274h4v4h-4zM114 278h4v4h-4zM114 282h4v4h-4z"/>
<path fill="#575757" d="M86 74h4v4h-4zM66 86h4v4h-4zM62 90h4v4h-4zM166 94h4v4h-4zM162 98h4v4h-4zM158 110h4v4h-4zM158 114h4v4h-4zM158 118h4v4h-4zM158 122h4v4h-4zM158 126h4v4h-4zM158 130h4v4h-4zM158 134h4v4h-4zM22 138h4v4h-4zM158 138h4v4h-4zM158 142h4v4h-4zM154 198h4v4h-4zM150 210h4v4h-4zM146 214h4v4h-4zM134 226h4v4h-4zM130 234h4v4h-4zM126 238h4v4h-4zM114 250h4v4h-4zM110 262h4v4h-4z"/>
<path fill="#585858" d="M78 78h4v4h-4zM58 94h4v4h-4zM138 94h4v4h-4zM150 94h4v4h-4zM162 94h4v4h-4zM158 102h4v4h-4zM158 106h4v4h-4zM46 110h4v4h-4zM26 142h4v4h-4zM154 150h4v4h-4zM154 154h4v4h-4zM154 158h4v4h-4zM154 162h4v4h-4zM154 166h4v4h-4zM154 170h4v4h-4zM154 174h4v4h-4zM154 178h4v4h-4zM154 182h4v4h-4zM154 186h4v4h-4zM154 190h4v4h-4zM154 194h4v4h-4zM150 206h4v4h-4zM110 254h4v4h-4zM110 258h4v4h-4zM110 266h4v4h-4zM70 270h4v4h-4zM110 270h4v4h-4zM110 274h4v4h-4zM110 278h4v4h-4zM110 282h4v4h-4z"/>
<path fill="#595959" d="M142 94h4v4h-4zM146 94h4v4h-4zM158 98h4v4h-4zM154 110h4v4h-4zM154 114h4v4h-4zM38 122h4v4h-4zM30 134h4v4h-4zM22 142h4v4h-4zM154 142h4v4h-4zM154 146h4v4h-4zM146 210h4v4h-4zM142 214h4v4h-4zM138 218h4v4h-4zM134 222h4v4h-4zM130 230h4v4h-4zM118 242h4v4h-4zM114 246h4v4h-4zM110 250h4v4h-4z"/>
<path fill="#5a5a5a" d="M126 90h4v4h-4zM154 98h4v4h-4zM154 102h4v4h-4zM154 106h4v4h-4zM154 118h4v4h-4zM154 122h4v4h-4zM154 126h4v4h-4zM34 130h4v4h-4zM154 130h4v4h-4zM154 134h4v4h-4zM154 138h4v4h-4zM22 146h4v4h-4zM26 146h4v4h-4zM150 198h4v4h-4zM150 202h4v4h-4zM130 226h4v4h-4zM126 234h4v4h-4zM106 258h4v4h-4zM106 262h4v4h-4zM70 266h4v4h-4zM106 266h4v4h-4zM106 270h4v4h-4zM106 274h4v4h-4zM106 278h4v4h-4z"/>
<path fill="#5b5b5b" d="M110 78h4v4h-4zM150 98h4v4h-4zM150 102h4v4h-4zM150 106h4v4h-4zM150 110h4v4h-4zM150 114h4v4h-4zM150 146h4v4h-4zM18 150h4v4h-4zM22 150h4v4h-4zM150 150h4v4h-4zM18 154h4v4h-4zM22 154h4v4h-4zM150 154h4v4h-4zM150 158h4v4h-4zM150 162h4v4h-4zM150 166h4v4h-4zM150 170h4v4h-4zM150 174h4v4h-4zM150 178h4v4h-4zM150 182h4v4h-4zM150 186h4v4h-4zM150 190h4v4h-4zM150 194h4v4h-4zM146 206h4v4h-4zM134 218h4v4h-4zM122 238h4v4h-4zM110 246h4v4h-4zM106 254h4v4h-4zM66 270h4v4h-4zM98 278h4v4h-4z"/>
<path fill="#5c5c5c" d="M138 98h4v4h-4zM142 98h4v4h-4zM146 98h4v4h-4zM138 102h4v4h-4zM142 102h4v4h-4zM146 102h4v4h-4zM142 106h4v4h-4zM146 106h4v4h-4zM146 110h4v4h-4zM150 118h4v4h-4zM150 122h4v4h-4zM150 138h4v4h-4zM150 142h4v4h-4zM18 158h4v4h-4zM22 158h4v4h-4zM146 202h4v4h-4zM142 210h4v4h-4zM138 214h4v4h-4zM130 222h4v4h-4zM126 230h4v4h-4zM114 242h4v4h-4zM106 250h4v4h-4zM66 262h4v4h-4zM66 266h4v4h-4zM102 274h4v4h-4zM102 278h4v4h-4z"/>
<path fill="#5d5d5d" d="M90 74h4v4h-4zM74 82h4v4h-4zM114 82h4v4h-4zM118 86h4v4h-4zM134 94h4v4h-4zM134 98h4v4h-4zM134 102h4v4h-4zM134 106h4v4h-4zM138 106h4v4h-4zM142 110h4v4h-4zM146 114h4v4h-4zM150 126h4v4h-4zM150 130h4v4h-4zM150 134h4v4h-4zM26 150h4v4h-4zM146 150h4v4h-4zM146 154h4v4h-4zM146 158h4v4h-4zM18 162h4v4h-4zM22 162h4v4h-4zM146 162h4v4h-4zM146 166h4v4h-4zM146 170h4v4h-4zM146 174h4v4h-4zM146 178h4v4h-4zM146 182h4v4h-4zM146 186h4v4h-4zM146 190h4v4h-4zM146 194h4v4h-4zM146 198h4v4h-4zM102 258h4v4h-4zM58 262h4v4h-4zM62 262h4v4h-4zM102 262h4v4h-4zM62 266h4v4h-4zM102 266h4v4h-4zM102 270h4v4h-4z"/>
<path fill="#5e5e5e" d="M130 94h4v4h-4zM130 98h4v4h-4zM130 102h4v4h-4zM50 106h4v4h-4zM130 106h4v4h-4zM138 110h4v4h-4zM142 114h4v4h-4zM146 118h4v4h-4zM146 122h4v4h-4zM30 138h4v4h-4zM146 142h4v4h-4zM146 146h4v4h-4zM18 166h4v4h-4zM22 166h4v4h-4zM142 206h4v4h-4zM138 210h4v4h-4zM134 214h4v4h-4zM130 218h4v4h-4zM126 226h4v4h-4zM122 234h4v4h-4zM118 238h4v4h-4zM110 242h4v4h-4zM106 246h4v4h-4zM50 254h4v4h-4zM54 254h4v4h-4zM102 254h4v4h-4zM50 258h4v4h-4zM54 258h4v4h-4zM58 258h4v4h-4zM54 262h4v4h-4zM98 270h4v4h-4zM94 274h4v4h-4zM98 274h4v4h-4z"/>
<path fill="#5f5f5f" d="M122 90h4v4h-4zM126 98h4v4h-4zM126 102h4v4h-4zM126 106h4v4h-4zM134 110h4v4h-4zM42 118h4v4h-4zM146 126h4v4h-4zM146 130h4v4h-4zM146 134h4v4h-4zM146 138h4v4h-4zM26 154h4v4h-4zM18 170h4v4h-4zM22 170h4v4h-4zM18 174h4v4h-4zM22 174h4v4h-4zM142 202h4v4h-4zM126 222h4v4h-4zM46 246h4v4h-4zM46 250h4v4h-4zM50 250h4v4h-4zM102 250h4v4h-4zM46 254h4v4h-4zM98 262h4v4h-4zM98 266h4v4h-4zM94 270h4v4h-4zM90 274h4v4h-4z"/>
<path fill="#606060" d="M126 94h4v4h-4zM130 110h4v4h-4zM138 114h4v4h-4zM142 118h4v4h-4zM142 174h4v4h-4zM18 178h4v4h-4zM22 178h4v4h-4zM142 178h4v4h-4zM18 182h4v4h-4zM22 182h4v4h-4zM142 182h4v4h-4zM18 186h4v4h-4zM22 186h4v4h-4zM142 186h4v4h-4zM18 190h4v4h-4zM22 190h4v4h-4zM142 190h4v4h-4zM142 194h4v4h-4zM142 198h4v4h-4zM138 206h4v4h-4zM122 230h4v4h-4zM38 238h4v4h-4zM42 238h4v4h-4zM38 242h4v4h-4zM42 242h4v4h-4zM46 242h4v4h-4zM42 246h4v4h-4zM98 258h4v4h-4zM74 266h4v4h-4zM94 266h4v4h-4zM90 270h4v4h-4z"/>
<path fill="#616161" d="M82 78h4v4h-4zM54 102h4v4h-4zM122 102h4v4h-4zM122 106h4v4h-4zM50 110h4v4h-4zM126 110h4v4h-4zM134 114h4v4h-4zM142 122h4v4h-4zM142 126h4v4h-4zM142 142h4v4h-4zM142 146h4v4h-4zM142 150h4v4h-4zM142 154h4v4h-4zM142 158h4v4h-4zM142 162h4v4h-4zM142 166h4v4h-4zM142 170h4v4h-4zM18 194h4v4h-4zM22 194h4v4h-4zM18 198h4v4h-4zM22 198h4v4h-4zM22 202h4v4h-4zM26 202h4v4h-4zM22 206h4v4h-4zM26 206h4v4h-4zM22 210h4v4h-4zM26 210h4v4h-4zM134 210h4v4h-4zM26 214h4v4h-4zM30 214h4v4h-4zM130 214h4v4h-4zM26 218h4v4h-4zM30 218h4v4h-4zM126 218h4v4h-4zM26 222h4v4h-4zM30 222h4v4h-4zM30 226h4v4h-4zM34 226h4v4h-4zM30 230h4v4h-4zM34 230h4v4h-4zM34 234h4v4h-4zM38 234h4v4h-4zM34 238h4v4h-4zM114 238h4v4h-4zM106 242h4v4h-4zM102 246h4v4h-4zM98 254h4v4h-4zM94 262h4v4h-4zM90 266h4v4h-4zM86 270h4v4h-4z"/>
<path fill="#626262" d="M62 94h4v4h-4zM122 94h4v4h-4zM58 98h4v4h-4zM122 98h4v4h-4zM58 102h4v4h-4zM54 106h4v4h-4zM58 106h4v4h-4zM54 110h4v4h-4zM46 114h4v4h-4zM50 114h4v4h-4zM138 118h4v4h-4zM38 126h4v4h-4zM142 130h4v4h-4zM34 134h4v4h-4zM142 134h4v4h-4zM142 138h4v4h-4zM26 158h4v4h-4zM138 198h4v4h-4zM138 202h4v4h-4zM122 226h4v4h-4zM118 234h4v4h-4zM50 246h4v4h-4zM98 250h4v4h-4zM58 254h4v4h-4zM94 258h4v4h-4zM90 262h4v4h-4zM86 266h4v4h-4zM82 270h4v4h-4z"/>
<path fill="#636363" d="M70 86h4v4h-4zM66 90h4v4h-4zM66 94h4v4h-4zM62 98h4v4h-4zM66 98h4v4h-4zM62 102h4v4h-4zM62 106h4v4h-4zM58 110h4v4h-4zM122 110h4v4h-4zM54 114h4v4h-4zM130 114h4v4h-4zM138 178h4v4h-4zM138 182h4v4h-4zM138 186h4v4h-4zM138 190h4v4h-4zM138 194h4v4h-4zM134 206h4v4h-4zM122 222h4v4h-4zM110 238h4v4h-4zM102 242h4v4h-4zM98 246h4v4h-4zM94 254h4v4h-4zM90 258h4v4h-4zM86 262h4v4h-4z"/>
<path fill="#646464" d="M70 90h4v4h-4zM70 94h4v4h-4zM70 98h4v4h-4zM118 98h4v4h-4zM66 102h4v4h-4zM118 102h4v4h-4zM66 106h4v4h-4zM118 106h4v4h-4zM126 114h4v4h-4zM46 118h4v4h-4zM50 118h4v4h-4zM134 118h4v4h-4zM138 122h4v4h-4zM30 142h4v4h-4zM138 170h4v4h-4zM138 174h4v4h-4zM134 202h4v4h-4zM130 210h4v4h-4zM126 214h4v4h-4zM118 230h4v4h-4zM94 250h4v4h-4zM90 254h4v4h-4zM82 266h4v4h-4z"/>
<path fill="#656565" d="M94 74h4v4h-4zM98 74h4v4h-4zM102 74h4v4h-4zM74 86h4v4h-4zM118 90h4v4h-4zM118 94h4v4h-4zM70 102h4v4h-4zM70 106h4v4h-4zM62 110h4v4h-4zM118 110h4v4h-4zM58 114h4v4h-4zM54 118h4v4h-4zM138 126h4v4h-4zM138 130h4v4h-4zM138 134h4v4h-4zM138 138h4v4h-4zM138 142h4v4h-4zM138 146h4v4h-4zM138 150h4v4h-4zM138 154h4v4h-4zM138 158h4v4h-4zM138 162h4v4h-4zM138 166h4v4h-4zM134 194h4v4h-4zM134 198h4v4h-4zM122 218h4v4h-4zM118 226h4v4h-4zM114 234h4v4h-4zM106 238h4v4h-4zM98 242h4v4h-4zM94 246h4v4h-4zM90 250h4v4h-4zM86 258h4v4h-4zM82 262h4v4h-4z"/>
<path fill="#666666" d="M86 78h4v4h-4zM102 78h4v4h-4zM106 78h4v4h-4zM78 82h4v4h-4zM110 82h4v4h-4zM114 86h4v4h-4zM74 90h4v4h-4zM74 94h4v4h-4zM74 98h4v4h-4zM74 102h4v4h-4zM66 110h4v4h-4zM62 114h4v4h-4zM122 114h4v4h-4zM130 118h4v4h-4zM42 122h4v4h-4zM46 122h4v4h-4zM50 122h4v4h-4zM26 162h4v4h-4zM134 178h4v4h-4zM134 182h4v4h-4zM134 186h4v4h-4zM134 190h4v4h-4zM130 206h4v4h-4zM126 210h4v4h-4zM38 230h4v4h-4zM110 234h4v4h-4zM102 238h4v4h-4zM90 246h4v4h-4zM86 254h4v4h-4zM78 266h4v4h-4z"/>
<path fill="#676767" d="M90 78h4v4h-4zM94 78h4v4h-4zM98 78h4v4h-4zM82 82h4v4h-4zM78 86h4v4h-4zM114 90h4v4h-4zM114 94h4v4h-4zM114 98h4v4h-4zM114 102h4v4h-4zM74 106h4v4h-4zM114 106h4v4h-4zM70 110h4v4h-4zM66 114h4v4h-4zM58 118h4v4h-4zM54 122h4v4h-4zM134 122h4v4h-4zM134 174h4v4h-4zM130 198h4v4h-4zM130 202h4v4h-4zM30 210h4v4h-4zM122 214h4v4h-4zM118 222h4v4h-4zM114 230h4v4h-4zM94 242h4v4h-4zM86 250h4v4h-4zM82 258h4v4h-4z"/>
<path fill="#686868" d="M86 82h4v4h-4zM106 82h4v4h-4zM110 86h4v4h-4zM78 90h4v4h-4zM74 110h4v4h-4zM70 114h4v4h-4zM62 118h4v4h-4zM126 118h4v4h-4zM42 126h4v4h-4zM46 126h4v4h-4zM50 126h4v4h-4zM134 126h4v4h-4zM134 170h4v4h-4zM130 182h4v4h-4zM130 186h4v4h-4zM130 190h4v4h-4zM130 194h4v4h-4zM26 198h4v4h-4zM126 206h4v4h-4zM118 218h4v4h-4zM114 226h4v4h-4zM106 234h4v4h-4zM98 238h4v4h-4zM90 242h4v4h-4zM86 246h4v4h-4zM82 250h4v4h-4zM82 254h4v4h-4zM62 258h4v4h-4zM78 262h4v4h-4z"/>
<path fill="#696969" d="M90 82h4v4h-4zM98 82h4v4h-4zM102 82h4v4h-4zM82 86h4v4h-4zM78 94h4v4h-4zM78 98h4v4h-4zM78 102h4v4h-4zM78 106h4v4h-4zM114 110h4v4h-4zM118 114h4v4h-4zM66 118h4v4h-4zM58 122h4v4h-4zM130 122h4v4h-4zM54 126h4v4h-4zM134 130h4v4h-4zM134 134h4v4h-4zM134 138h4v4h-4zM134 142h4v4h-4zM30 146h4v4h-4zM134 146h4v4h-4zM134 150h4v4h-4zM134 154h4v4h-4zM134 158h4v4h-4zM134 162h4v4h-4zM134 166h4v4h-4zM130 178h4v4h-4zM126 198h4v4h-4zM126 202h4v4h-4zM122 210h4v4h-4zM114 222h4v4h-4zM110 230h4v4h-4zM94 238h4v4h-4zM86 242h4v4h-4zM82 246h4v4h-4zM78 258h4v4h-4z"/>
<path fill="#6a6a6a" d="M94 82h4v4h-4zM106 86h4v4h-4zM110 90h4v4h-4zM110 94h4v4h-4zM110 98h4v4h-4zM110 102h4v4h-4zM110 106h4v4h-4zM78 110h4v4h-4zM74 114h4v4h-4zM70 118h4v4h-4zM122 118h4v4h-4zM62 122h4v4h-4zM38 130h4v4h-4zM42 130h4v4h-4zM46 130h4v4h-4zM26 166h4v4h-4zM130 174h4v4h-4zM126 182h4v4h-4zM126 186h4v4h-4zM126 190h4v4h-4zM26 194h4v4h-4zM126 194h4v4h-4zM122 206h4v4h-4zM118 214h4v4h-4zM110 226h4v4h-4zM106 230h4v4h-4zM42 234h4v4h-4zM102 234h4v4h-4zM90 238h4v4h-4zM82 242h4v4h-4zM78 250h4v4h-4zM78 254h4v4h-4zM74 262h4v4h-4z"/>
<path fill="#6b6b6b" d="M86 86h4v4h-4zM102 86h4v4h-4zM82 90h4v4h-4zM78 114h4v4h-4zM66 122h4v4h-4zM126 122h4v4h-4zM58 126h4v4h-4zM130 126h4v4h-4zM50 130h4v4h-4zM130 170h4v4h-4zM126 178h4v4h-4zM122 198h4v4h-4zM122 202h4v4h-4zM114 218h4v4h-4zM34 222h4v4h-4zM110 222h4v4h-4zM98 234h4v4h-4zM86 238h4v4h-4zM78 246h4v4h-4zM54 250h4v4h-4zM70 262h4v4h-4z"/>
<path fill="#6c6c6c" d="M90 86h4v4h-4zM94 86h4v4h-4zM98 86h4v4h-4zM106 90h4v4h-4zM82 94h4v4h-4zM82 98h4v4h-4zM82 102h4v4h-4zM82 106h4v4h-4zM82 110h4v4h-4zM110 110h4v4h-4zM114 114h4v4h-4zM74 118h4v4h-4zM70 122h4v4h-4zM62 126h4v4h-4zM66 126h4v4h-4zM54 130h4v4h-4zM130 130h4v4h-4zM38 134h4v4h-4zM42 134h4v4h-4zM46 134h4v4h-4zM130 134h4v4h-4zM130 138h4v4h-4zM130 142h4v4h-4zM130 166h4v4h-4zM126 174h4v4h-4zM122 182h4v4h-4zM122 186h4v4h-4zM122 190h4v4h-4zM122 194h4v4h-4zM118 210h4v4h-4zM106 226h4v4h-4zM102 230h4v4h-4zM94 234h4v4h-4zM82 238h4v4h-4zM78 242h4v4h-4zM74 254h4v4h-4zM74 258h4v4h-4z"/>
<path fill="#6d6d6d" d="M86 90h4v4h-4zM102 90h4v4h-4zM106 94h4v4h-4zM106 98h4v4h-4zM106 102h4v4h-4zM106 106h4v4h-4zM78 118h4v4h-4zM118 118h4v4h-4zM74 122h4v4h-4zM70 126h4v4h-4zM126 126h4v4h-4zM58 130h4v4h-4zM62 130h4v4h-4zM50 134h4v4h-4zM130 146h4v4h-4zM130 150h4v4h-4zM130 154h4v4h-4zM130 158h4v4h-4zM130 162h4v4h-4zM26 170h4v4h-4zM122 178h4v4h-4zM26 190h4v4h-4zM118 202h4v4h-4zM118 206h4v4h-4zM114 214h4v4h-4zM110 218h4v4h-4zM106 222h4v4h-4zM90 234h4v4h-4zM74 246h4v4h-4zM74 250h4v4h-4z"/>
<path fill="#6e6e6e" d="M90 90h4v4h-4zM98 90h4v4h-4zM86 94h4v4h-4zM102 94h4v4h-4zM82 114h4v4h-4zM122 122h4v4h-4zM66 130h4v4h-4zM70 130h4v4h-4zM126 130h4v4h-4zM54 134h4v4h-4zM126 134h4v4h-4zM34 138h4v4h-4zM38 138h4v4h-4zM42 138h4v4h-4zM126 138h4v4h-4zM126 170h4v4h-4zM122 174h4v4h-4zM118 186h4v4h-4zM118 190h4v4h-4zM118 194h4v4h-4zM118 198h4v4h-4zM114 210h4v4h-4zM102 226h4v4h-4zM98 230h4v4h-4zM86 234h4v4h-4zM78 238h4v4h-4zM74 242h4v4h-4zM70 258h4v4h-4z"/>
<path fill="#6f6f6f" d="M94 90h4v4h-4zM90 94h4v4h-4zM86 98h4v4h-4zM102 98h4v4h-4zM86 102h4v4h-4zM102 102h4v4h-4zM86 106h4v4h-4zM86 110h4v4h-4zM106 110h4v4h-4zM110 114h4v4h-4zM78 122h4v4h-4zM74 126h4v4h-4zM122 126h4v4h-4zM58 134h4v4h-4zM62 134h4v4h-4zM66 134h4v4h-4zM46 138h4v4h-4zM50 138h4v4h-4zM126 142h4v4h-4zM126 146h4v4h-4zM126 150h4v4h-4zM126 154h4v4h-4zM126 158h4v4h-4zM126 162h4v4h-4zM126 166h4v4h-4zM118 178h4v4h-4zM118 182h4v4h-4zM30 206h4v4h-4zM114 206h4v4h-4zM110 214h4v4h-4zM106 218h4v4h-4zM102 222h4v4h-4zM38 226h4v4h-4zM94 230h4v4h-4zM82 234h4v4h-4zM70 250h4v4h-4zM70 254h4v4h-4z"/>
<path fill="#707070" d="M94 94h4v4h-4zM98 94h4v4h-4zM90 98h4v4h-4zM98 98h4v4h-4zM90 102h4v4h-4zM102 106h4v4h-4zM86 114h4v4h-4zM82 118h4v4h-4zM114 118h4v4h-4zM118 122h4v4h-4zM78 126h4v4h-4zM74 130h4v4h-4zM122 130h4v4h-4zM70 134h4v4h-4zM122 134h4v4h-4zM54 138h4v4h-4zM38 142h4v4h-4zM42 142h4v4h-4zM30 150h4v4h-4zM122 170h4v4h-4zM114 194h4v4h-4zM114 198h4v4h-4zM114 202h4v4h-4zM110 210h4v4h-4zM106 214h4v4h-4zM102 218h4v4h-4zM98 226h4v4h-4zM90 230h4v4h-4zM78 234h4v4h-4zM74 238h4v4h-4zM70 246h4v4h-4zM66 258h4v4h-4z"/>
<path fill="#717171" d="M94 98h4v4h-4zM94 102h4v4h-4zM98 102h4v4h-4zM90 106h4v4h-4zM94 106h4v4h-4zM98 106h4v4h-4zM90 110h4v4h-4zM102 110h4v4h-4zM106 114h4v4h-4zM82 122h4v4h-4zM78 130h4v4h-4zM74 134h4v4h-4zM58 138h4v4h-4zM62 138h4v4h-4zM66 138h4v4h-4zM70 138h4v4h-4zM122 138h4v4h-4zM34 142h4v4h-4zM46 142h4v4h-4zM50 142h4v4h-4zM54 142h4v4h-4zM122 142h4v4h-4zM122 146h4v4h-4zM122 150h4v4h-4zM122 154h4v4h-4zM122 158h4v4h-4zM122 162h4v4h-4zM122 166h4v4h-4zM26 174h4v4h-4zM118 174h4v4h-4zM114 182h4v4h-4zM26 186h4v4h-4zM114 186h4v4h-4zM114 190h4v4h-4zM110 202h4v4h-4zM110 206h4v4h-4zM98 222h4v4h-4zM94 226h4v4h-4zM82 230h4v4h-4zM86 230h4v4h-4zM74 234h4v4h-4zM70 242h4v4h-4zM66 254h4v4h-4z"/>
<path fill="#727272" d="M94 110h4v4h-4zM98 110h4v4h-4zM90 114h4v4h-4zM102 114h4v4h-4zM86 118h4v4h-4zM110 118h4v4h-4zM82 126h4v4h-4zM118 126h4v4h-4zM82 130h4v4h-4zM118 130h4v4h-4zM78 134h4v4h-4zM118 134h4v4h-4zM74 138h4v4h-4zM78 138h4v4h-4zM58 142h4v4h-4zM62 142h4v4h-4zM66 142h4v4h-4zM70 142h4v4h-4zM74 142h4v4h-4zM34 146h4v4h-4zM38 146h4v4h-4zM42 146h4v4h-4zM46 146h4v4h-4zM50 146h4v4h-4zM54 146h4v4h-4zM58 146h4v4h-4zM62 146h4v4h-4zM66 146h4v4h-4zM46 150h4v4h-4zM118 170h4v4h-4zM26 178h4v4h-4zM114 178h4v4h-4zM26 182h4v4h-4zM110 190h4v4h-4zM110 194h4v4h-4zM110 198h4v4h-4zM106 206h4v4h-4zM106 210h4v4h-4zM102 214h4v4h-4zM34 218h4v4h-4zM98 218h4v4h-4zM94 222h4v4h-4zM86 226h4v4h-4zM90 226h4v4h-4zM78 230h4v4h-4zM70 238h4v4h-4zM66 246h4v4h-4zM66 250h4v4h-4z"/>
<path fill="#737373" d="M94 114h4v4h-4zM98 114h4v4h-4zM90 118h4v4h-4zM86 122h4v4h-4zM114 122h4v4h-4zM86 126h4v4h-4zM86 130h4v4h-4zM82 134h4v4h-4zM82 138h4v4h-4zM118 138h4v4h-4zM78 142h4v4h-4zM82 142h4v4h-4zM118 142h4v4h-4zM70 146h4v4h-4zM74 146h4v4h-4zM78 146h4v4h-4zM118 146h4v4h-4zM34 150h4v4h-4zM38 150h4v4h-4zM42 150h4v4h-4zM50 150h4v4h-4zM54 150h4v4h-4zM58 150h4v4h-4zM62 150h4v4h-4zM66 150h4v4h-4zM70 150h4v4h-4zM74 150h4v4h-4zM78 150h4v4h-4zM118 150h4v4h-4zM38 154h4v4h-4zM42 154h4v4h-4zM46 154h4v4h-4zM50 154h4v4h-4zM54 154h4v4h-4zM58 154h4v4h-4zM62 154h4v4h-4zM66 154h4v4h-4zM70 154h4v4h-4zM74 154h4v4h-4zM118 154h4v4h-4zM46 158h4v4h-4zM50 158h4v4h-4zM54 158h4v4h-4zM58 158h4v4h-4zM62 158h4v4h-4zM66 158h4v4h-4zM118 158h4v4h-4zM118 162h4v4h-4zM118 166h4v4h-4zM114 174h4v4h-4zM110 178h4v4h-4zM110 182h4v4h-4zM110 186h4v4h-4zM106 194h4v4h-4zM106 198h4v4h-4zM106 202h4v4h-4zM102 206h4v4h-4zM102 210h4v4h-4zM98 214h4v4h-4zM94 218h4v4h-4zM90 222h4v4h-4zM78 226h4v4h-4zM82 226h4v4h-4zM74 230h4v4h-4zM46 238h4v4h-4zM66 242h4v4h-4zM62 250h4v4h-4zM62 254h4v4h-4z"/>
<path fill="#747474" d="M94 118h4v4h-4zM102 118h4v4h-4zM106 118h4v4h-4zM90 122h4v4h-4zM110 122h4v4h-4zM90 126h4v4h-4zM114 126h4v4h-4zM90 130h4v4h-4zM114 130h4v4h-4zM86 134h4v4h-4zM90 134h4v4h-4zM114 134h4v4h-4zM86 138h4v4h-4zM90 138h4v4h-4zM86 142h4v4h-4zM82 146h4v4h-4zM86 146h4v4h-4zM82 150h4v4h-4zM86 150h4v4h-4zM30 154h4v4h-4zM34 154h4v4h-4zM78 154h4v4h-4zM82 154h4v4h-4zM86 154h4v4h-4zM34 158h4v4h-4zM38 158h4v4h-4zM42 158h4v4h-4zM70 158h4v4h-4zM74 158h4v4h-4zM78 158h4v4h-4zM82 158h4v4h-4zM86 158h4v4h-4zM46 162h4v4h-4zM50 162h4v4h-4zM54 162h4v4h-4zM58 162h4v4h-4zM62 162h4v4h-4zM66 162h4v4h-4zM70 162h4v4h-4zM74 162h4v4h-4zM78 162h4v4h-4zM82 162h4v4h-4zM114 170h4v4h-4zM110 174h4v4h-4zM106 178h4v4h-4zM106 182h4v4h-4zM106 186h4v4h-4zM106 190h4v4h-4zM102 194h4v4h-4zM102 198h4v4h-4zM102 202h4v4h-4zM98 206h4v4h-4zM98 210h4v4h-4zM94 214h4v4h-4zM86 218h4v4h-4zM90 218h4v4h-4zM78 222h4v4h-4zM82 222h4v4h-4zM86 222h4v4h-4zM74 226h4v4h-4zM70 234h4v4h-4zM62 246h4v4h-4z"/>
<path fill="#757575" d="M98 118h4v4h-4zM94 122h4v4h-4zM98 122h4v4h-4zM106 122h4v4h-4zM94 126h4v4h-4zM110 126h4v4h-4zM94 130h4v4h-4zM94 134h4v4h-4zM94 138h4v4h-4zM114 138h4v4h-4zM90 142h4v4h-4zM94 142h4v4h-4zM114 142h4v4h-4zM90 146h4v4h-4zM94 146h4v4h-4zM114 146h4v4h-4zM90 150h4v4h-4zM94 150h4v4h-4zM114 150h4v4h-4zM90 154h4v4h-4zM94 154h4v4h-4zM114 154h4v4h-4zM30 158h4v4h-4zM90 158h4v4h-4zM94 158h4v4h-4zM114 158h4v4h-4zM30 162h4v4h-4zM34 162h4v4h-4zM38 162h4v4h-4zM42 162h4v4h-4zM86 162h4v4h-4zM90 162h4v4h-4zM94 162h4v4h-4zM114 162h4v4h-4zM42 166h4v4h-4zM46 166h4v4h-4zM50 166h4v4h-4zM54 166h4v4h-4zM58 166h4v4h-4zM62 166h4v4h-4zM66 166h4v4h-4zM70 166h4v4h-4zM74 166h4v4h-4zM78 166h4v4h-4zM82 166h4v4h-4zM86 166h4v4h-4zM90 166h4v4h-4zM94 166h4v4h-4zM114 166h4v4h-4zM78 170h4v4h-4zM82 170h4v4h-4zM86 170h4v4h-4zM90 170h4v4h-4zM110 170h4v4h-4zM106 174h4v4h-4zM102 178h4v4h-4zM102 182h4v4h-4zM102 186h4v4h-4zM98 190h4v4h-4zM102 190h4v4h-4zM98 194h4v4h-4zM98 198h4v4h-4zM94 202h4v4h-4zM98 202h4v4h-4zM94 206h4v4h-4zM90 210h4v4h-4zM94 210h4v4h-4zM82 214h4v4h-4zM86 214h4v4h-4zM90 214h4v4h-4zM78 218h4v4h-4zM82 218h4v4h-4zM74 222h4v4h-4zM70 230h4v4h-4zM66 238h4v4h-4zM62 242h4v4h-4zM58 246h4v4h-4zM58 250h4v4h-4z"/>
<path fill="#767676" d="M102 122h4v4h-4zM98 126h4v4h-4zM102 126h4v4h-4zM106 126h4v4h-4zM98 130h4v4h-4zM102 130h4v4h-4zM106 130h4v4h-4zM110 130h4v4h-4zM98 134h4v4h-4zM102 134h4v4h-4zM106 134h4v4h-4zM110 134h4v4h-4zM98 138h4v4h-4zM102 138h4v4h-4zM106 138h4v4h-4zM110 138h4v4h-4zM98 142h4v4h-4zM102 142h4v4h-4zM106 142h4v4h-4zM110 142h4v4h-4zM98 146h4v4h-4zM102 146h4v4h-4zM106 146h4v4h-4zM110 146h4v4h-4zM98 150h4v4h-4zM102 150h4v4h-4zM106 150h4v4h-4zM110 150h4v4h-4zM98 154h4v4h-4zM102 154h4v4h-4zM106 154h4v4h-4zM110 154h4v4h-4zM98 158h4v4h-4zM102 158h4v4h-4zM106 158h4v4h-4zM110 158h4v4h-4zM98 162h4v4h-4zM102 162h4v4h-4zM106 162h4v4h-4zM110 162h4v4h-4zM30 166h4v4h-4zM34 166h4v4h-4zM38 166h4v4h-4zM98 166h4v4h-4zM102 166h4v4h-4zM106 166h4v4h-4zM110 166h4v4h-4zM38 170h4v4h-4zM42 170h4v4h-4zM46 170h4v4h-4zM50 170h4v4h-4zM54 170h4v4h-4zM58 170h4v4h-4zM62 170h4v4h-4zM66 170h4v4h-4zM70 170h4v4h-4zM74 170h4v4h-4zM94 170h4v4h-4zM98 170h4v4h-4zM102 170h4v4h-4zM106 170h4v4h-4zM42 174h4v4h-4zM46 174h4v4h-4zM50 174h4v4h-4zM54 174h4v4h-4zM58 174h4v4h-4zM62 174h4v4h-4zM66 174h4v4h-4zM70 174h4v4h-4zM74 174h4v4h-4zM78 174h4v4h-4zM82 174h4v4h-4zM86 174h4v4h-4zM90 174h4v4h-4zM94 174h4v4h-4zM98 174h4v4h-4zM102 174h4v4h-4zM42 178h4v4h-4zM46 178h4v4h-4zM50 178h4v4h-4zM54 178h4v4h-4zM58 178h4v4h-4zM62 178h4v4h-4zM66 178h4v4h-4zM70 178h4v4h-4zM74 178h4v4h-4zM78 178h4v4h-4zM82 178h4v4h-4zM90 178h4v4h-4zM94 178h4v4h-4zM98 178h4v4h-4zM46 182h4v4h-4zM50 182h4v4h-4zM54 182h4v4h-4zM58 182h4v4h-4zM62 182h4v4h-4zM66 182h4v4h-4zM70 182h4v4h-4zM74 182h4v4h-4zM94 182h4v4h-4zM98 182h4v4h-4zM50 186h4v4h-4zM54 186h4v4h-4zM58 186h4v4h-4zM62 186h4v4h-4zM66 186h4v4h-4zM70 186h4v4h-4zM94 186h4v4h-4zM98 186h4v4h-4zM90 190h4v4h-4zM94 190h4v4h-4zM90 194h4v4h-4zM94 194h4v4h-4zM82 198h4v4h-4zM86 198h4v4h-4zM90 198h4v4h-4zM94 198h4v4h-4zM78 202h4v4h-4zM82 202h4v4h-4zM86 202h4v4h-4zM90 202h4v4h-4zM78 206h4v4h-4zM82 206h4v4h-4zM86 206h4v4h-4zM90 206h4v4h-4zM74 210h4v4h-4zM78 210h4v4h-4zM82 210h4v4h-4zM86 210h4v4h-4zM74 214h4v4h-4zM78 214h4v4h-4zM70 218h4v4h-4zM74 218h4v4h-4zM70 222h4v4h-4zM70 226h4v4h-4zM66 230h4v4h-4zM66 234h4v4h-4zM62 238h4v4h-4zM58 242h4v4h-4zM54 246h4v4h-4z"/>
<path fill="#777777" d="M30 170h4v4h-4zM34 170h4v4h-4zM30 174h4v4h-4zM34 174h4v4h-4zM38 174h4v4h-4zM30 178h4v4h-4zM34 178h4v4h-4zM38 178h4v4h-4zM86 178h4v4h-4zM30 182h4v4h-4zM34 182h4v4h-4zM38 182h4v4h-4zM42 182h4v4h-4zM78 182h4v4h-4zM82 182h4v4h-4zM86 182h4v4h-4zM90 182h4v4h-4zM34 186h4v4h-4zM38 186h4v4h-4zM42 186h4v4h-4zM46 186h4v4h-4zM74 186h4v4h-4zM78 186h4v4h-4zM82 186h4v4h-4zM86 186h4v4h-4zM90 186h4v4h-4zM42 190h4v4h-4zM46 190h4v4h-4zM50 190h4v4h-4zM54 190h4v4h-4zM58 190h4v4h-4zM62 190h4v4h-4zM66 190h4v4h-4zM70 190h4v4h-4zM74 190h4v4h-4zM78 190h4v4h-4zM82 190h4v4h-4zM86 190h4v4h-4zM50 194h4v4h-4zM54 194h4v4h-4zM58 194h4v4h-4zM62 194h4v4h-4zM66 194h4v4h-4zM70 194h4v4h-4zM74 194h4v4h-4zM78 194h4v4h-4zM82 194h4v4h-4zM86 194h4v4h-4zM54 198h4v4h-4zM58 198h4v4h-4zM62 198h4v4h-4zM66 198h4v4h-4zM70 198h4v4h-4zM74 198h4v4h-4zM78 198h4v4h-4zM62 202h4v4h-4zM66 202h4v4h-4zM70 202h4v4h-4zM74 202h4v4h-4zM62 206h4v4h-4zM66 206h4v4h-4zM70 206h4v4h-4zM74 206h4v4h-4zM66 210h4v4h-4zM70 210h4v4h-4zM66 214h4v4h-4zM70 214h4v4h-4zM62 218h4v4h-4zM66 218h4v4h-4zM62 222h4v4h-4zM66 222h4v4h-4zM62 226h4v4h-4zM66 226h4v4h-4zM58 230h4v4h-4zM62 230h4v4h-4zM54 234h4v4h-4zM58 234h4v4h-4zM62 234h4v4h-4zM50 238h4v4h-4zM54 238h4v4h-4zM58 238h4v4h-4zM50 242h4v4h-4zM54 242h4v4h-4z"/>
<path fill="#787878" d="M30 186h4v4h-4zM30 190h4v4h-4zM34 190h4v4h-4zM38 190h4v4h-4zM30 194h4v4h-4zM34 194h4v4h-4zM38 194h4v4h-4zM42 194h4v4h-4zM46 194h4v4h-4zM42 198h4v4h-4zM46 198h4v4h-4zM50 198h4v4h-4zM46 202h4v4h-4zM50 202h4v4h-4zM54 202h4v4h-4zM58 202h4v4h-4zM46 206h4v4h-4zM50 206h4v4h-4zM54 206h4v4h-4zM58 206h4v4h-4zM46 210h4v4h-4zM50 210h4v4h-4zM54 210h4v4h-4zM58 210h4v4h-4zM62 210h4v4h-4zM50 214h4v4h-4zM54 214h4v4h-4zM58 214h4v4h-4zM62 214h4v4h-4zM50 218h4v4h-4zM54 218h4v4h-4zM58 218h4v4h-4zM50 222h4v4h-4zM54 222h4v4h-4zM58 222h4v4h-4zM46 226h4v4h-4zM50 226h4v4h-4zM54 226h4v4h-4zM58 226h4v4h-4zM42 230h4v4h-4zM46 230h4v4h-4zM50 230h4v4h-4zM54 230h4v4h-4zM46 234h4v4h-4zM50 234h4v4h-4z"/>
<path fill="#797979" d="M30 198h4v4h-4zM34 198h4v4h-4zM38 198h4v4h-4zM30 202h4v4h-4zM34 202h4v4h-4zM38 202h4v4h-4zM42 202h4v4h-4zM34 206h4v4h-4zM38 206h4v4h-4zM42 206h4v4h-4zM34 210h4v4h-4zM38 210h4v4h-4zM42 210h4v4h-4zM34 214h4v4h-4zM38 214h4v4h-4zM42 214h4v4h-4zM46 214h4v4h-4zM38 218h4v4h-4zM42 218h4v4h-4zM46 218h4v4h-4zM38 222h4v4h-4zM42 222h4v4h-4zM46 222h4v4h-4zM42 226h4v4h-4z"/>
</g></g>
<linearGradient id="rimg" gradientUnits="userSpaceOnUse" x1="25" y1="0" x2="150" y2="0"><stop offset="0" stop-color="#a0f0f0" stop-opacity="1"/><stop offset="0.45" stop-color="#a0f0f0" stop-opacity="0.8"/><stop offset="0.6" stop-color="#a0f0f0" stop-opacity="0"/></linearGradient>
<path d="M25.7 175.0 L25.8 171.3 L26.0 167.5 L26.3 163.8 L26.7 160.1 L27.2 156.4 L27.9 152.6 L28.5 149.0 L29.3 145.3 L30.2 141.6 L31.2 138.0 L32.3 134.3 L33.5 130.7 L34.8 127.1 L36.2 123.5 L37.7 120.0 L39.3 116.5 L41.1 113.0 L42.9 109.6 L44.9 106.2 L47.0 102.9 L49.3 99.6 L51.7 96.4 L54.2 93.4 L56.8 90.4 L59.6 87.5 L62.5 84.7 L65.5 82.1 L68.6 79.6 L71.9 77.2 L75.3 75.0 L78.7 73.0 L82.3 71.1 L86.0 69.4 L89.7 67.9 L93.5 66.5 L97.4 65.4 L101.3 64.4 L105.2 63.6 L109.2 63.0 L113.2 62.6 L117.2 62.3 L121.1 62.2 L125.1 62.3 L129.1 62.6 L133.0 63.0 L136.9 63.5 L140.8 64.2 L144.6 65.0 L148.3 65.9 L152.1 66.9 L155.7 68.0 L159.4 69.3 L162.9 70.6 L166.5 72.0 L170.0 73.5 L173.4 75.0 L176.8 76.6 L180.1 78.3 L183.4 80.1 L186.7 82.0 L189.9 83.9 L193.1 85.9 L196.2 88.0 L199.3 90.1 L202.4 92.3 L205.3 94.7 L208.3 97.1 L211.1 99.6 L213.9 102.1 L216.6 104.8 L219.3 107.6 L221.8 110.5 L224.2 113.5 L226.6 116.5 L228.8 119.7 L230.9 123.0 L232.9 126.3 L234.7 129.7 L236.4 133.2 L237.9 136.8 L239.3 140.5 L240.5 144.2 L241.6 147.9 L242.5 151.7 L243.2 155.6 L243.8 159.4 L244.2 163.3 L244.4 167.2 L244.5 171.1 L244.5 175.0 L244.3 178.9 L243.9 182.8 L243.4 186.6 L242.8 190.4 L242.0 194.2 L241.1 198.0 L240.1 201.7 L238.9 205.4 L237.7 209.0 L236.4 212.6 L234.9 216.2 L233.3 219.7 L231.7 223.1 L230.0 226.6 L228.1 229.9 L226.2 233.2 L224.2 236.5 L222.0 239.7 L219.8 242.8 L217.5 245.9 L215.1 248.9 L212.6 251.9 L210.0 254.8 L207.3 257.6 L204.5 260.3 L201.7 262.9 L198.7 265.4 L195.6 267.8 L192.4 270.1 L189.2 272.3 L185.8 274.4 L182.4 276.3 L178.9 278.1 L175.3 279.8 L171.7 281.3 L168.0 282.6 L164.2 283.8 L160.4 284.9 L156.5 285.8 L152.7 286.5 L148.8 286.8 L144.8 286.8 L140.9 286.8 L136.9 286.8 L133.0 286.8 L129.1 286.8 L125.2 286.8 L121.3 286.7 L117.4 286.1 L113.6 285.3 L109.8 284.4 L106.0 283.3 L102.3 282.1 L98.6 280.8 L95.0 279.4 L91.4 277.9 L87.9 276.2 L84.5 274.5 L81.1 272.6 L77.8 270.6 L74.6 268.5 L71.4 266.3 L68.3 264.1 L65.3 261.7 L62.4 259.2 L59.5 256.6 L56.8 253.9 L54.1 251.2 L51.6 248.3 L49.1 245.4 L46.8 242.4 L44.5 239.3 L42.4 236.1 L40.4 232.9 L38.5 229.5 L36.8 226.2 L35.2 222.7 L33.7 219.2 L32.3 215.7 L31.1 212.1 L30.0 208.5 L29.0 204.8 L28.2 201.1 L27.4 197.4 L26.9 193.7 L26.4 190.0 L26.1 186.2 L25.8 182.5 L25.7 178.7Z" fill="none" stroke="url(#rimg)" stroke-width="2.2" clip-path="url(#dclip)"/>
<g clip-path="url(#bclip)"><g filter="url(#qb)" shape-rendering="crispEdges">
<path fill="#262626" d="M536 98h3v3h-3zM539 98h3v3h-3z"/>
<path fill="#272727" d="M530 98h3v3h-3zM533 98h3v3h-3zM542 98h3v3h-3zM545 98h3v3h-3zM548 98h3v3h-3zM533 101h3v3h-3zM536 101h3v3h-3zM539 101h3v3h-3zM542 101h3v3h-3z"/>
<path fill="#282828" d="M527 98h3v3h-3zM551 98h3v3h-3zM554 98h3v3h-3zM557 98h3v3h-3zM560 98h3v3h-3zM530 101h3v3h-3zM545 101h3v3h-3zM548 101h3v3h-3zM551 101h3v3h-3zM554 101h3v3h-3zM557 101h3v3h-3zM548 104h3v3h-3z"/>
<path fill="#292929" d="M524 98h3v3h-3zM563 98h3v3h-3zM566 98h3v3h-3zM569 98h3v3h-3zM527 101h3v3h-3zM560 101h3v3h-3zM563 101h3v3h-3zM566 101h3v3h-3zM551 104h3v3h-3zM554 104h3v3h-3zM557 104h3v3h-3zM560 104h3v3h-3zM563 104h3v3h-3z"/>
<path fill="#2a2a2a" d="M521 98h3v3h-3zM572 98h3v3h-3zM575 98h3v3h-3zM524 101h3v3h-3zM569 101h3v3h-3zM572 101h3v3h-3zM542 104h3v3h-3zM545 104h3v3h-3zM566 104h3v3h-3zM569 104h3v3h-3zM560 107h3v3h-3zM563 107h3v3h-3zM566 107h3v3h-3z"/>
<path fill="#2b2b2b" d="M518 98h3v3h-3zM578 98h3v3h-3zM521 101h3v3h-3zM575 101h3v3h-3zM572 104h3v3h-3zM557 107h3v3h-3zM569 107h3v3h-3zM563 110h3v3h-3zM566 110h3v3h-3z"/>
<path fill="#2c2c2c" d="M515 98h3v3h-3zM581 98h3v3h-3zM518 101h3v3h-3zM578 101h3v3h-3zM581 101h3v3h-3zM539 104h3v3h-3zM575 104h3v3h-3zM578 104h3v3h-3zM572 107h3v3h-3zM575 107h3v3h-3zM569 110h3v3h-3zM572 110h3v3h-3zM566 113h3v3h-3zM569 113h3v3h-3z"/>
<path fill="#2d2d2d" d="M536 104h3v3h-3zM581 104h3v3h-3zM554 107h3v3h-3zM578 107h3v3h-3zM581 107h3v3h-3zM575 110h3v3h-3zM578 110h3v3h-3zM581 110h3v3h-3zM572 113h3v3h-3zM575 113h3v3h-3zM578 113h3v3h-3zM581 113h3v3h-3zM569 116h3v3h-3zM572 116h3v3h-3zM575 116h3v3h-3zM578 116h3v3h-3zM581 116h3v3h-3zM569 119h3v3h-3z"/>
<path fill="#2e2e2e" d="M512 98h3v3h-3zM515 101h3v3h-3zM518 104h3v3h-3zM521 104h3v3h-3zM533 104h3v3h-3zM572 119h3v3h-3zM575 119h3v3h-3zM578 119h3v3h-3zM581 119h3v3h-3zM572 122h3v3h-3zM575 122h3v3h-3zM578 122h3v3h-3zM581 122h3v3h-3zM578 125h3v3h-3zM581 125h3v3h-3z"/>
<path fill="#2f2f2f" d="M509 98h3v3h-3zM512 101h3v3h-3zM515 104h3v3h-3zM524 104h3v3h-3zM527 104h3v3h-3zM530 104h3v3h-3zM551 107h3v3h-3zM560 110h3v3h-3zM572 125h3v3h-3zM575 125h3v3h-3zM575 128h3v3h-3zM578 128h3v3h-3zM581 128h3v3h-3z"/>
<path fill="#303030" d="M572 128h3v3h-3zM575 131h3v3h-3zM578 131h3v3h-3zM581 131h3v3h-3z"/>
<path fill="#313131" d="M506 98h3v3h-3zM509 101h3v3h-3zM512 104h3v3h-3zM548 107h3v3h-3zM575 134h3v3h-3zM578 134h3v3h-3zM581 134h3v3h-3z"/>
<path fill="#323232" d="M503 98h3v3h-3zM506 101h3v3h-3zM566 116h3v3h-3zM575 137h3v3h-3zM578 137h3v3h-3zM581 137h3v3h-3zM581 140h3v3h-3z"/>
<path fill="#333333" d="M509 104h3v3h-3zM512 107h3v3h-3zM557 110h3v3h-3zM569 122h3v3h-3zM575 140h3v3h-3zM578 140h3v3h-3zM578 143h3v3h-3zM581 143h3v3h-3zM581 146h3v3h-3z"/>
<path fill="#343434" d="M500 98h3v3h-3zM503 101h3v3h-3zM506 104h3v3h-3zM545 107h3v3h-3zM563 113h3v3h-3zM572 131h3v3h-3zM575 143h3v3h-3zM578 146h3v3h-3zM581 149h3v3h-3z"/>
<path fill="#353535" d="M509 107h3v3h-3zM515 107h3v3h-3zM542 107h3v3h-3zM572 134h3v3h-3zM575 146h3v3h-3zM578 149h3v3h-3zM581 152h3v3h-3z"/>
<path fill="#363636" d="M497 98h3v3h-3zM500 101h3v3h-3zM503 104h3v3h-3zM533 107h3v3h-3zM536 107h3v3h-3zM539 107h3v3h-3zM566 119h3v3h-3zM569 125h3v3h-3zM572 146h3v3h-3zM575 149h3v3h-3zM578 152h3v3h-3zM578 155h3v3h-3zM581 155h3v3h-3zM581 158h3v3h-3z"/>
<path fill="#373737" d="M506 107h3v3h-3zM530 107h3v3h-3zM509 110h3v3h-3zM536 110h3v3h-3zM539 110h3v3h-3zM542 110h3v3h-3zM545 110h3v3h-3zM548 110h3v3h-3zM551 110h3v3h-3zM554 110h3v3h-3zM572 149h3v3h-3zM575 152h3v3h-3zM575 155h3v3h-3zM578 158h3v3h-3zM581 161h3v3h-3z"/>
<path fill="#383838" d="M494 98h3v3h-3zM497 101h3v3h-3zM500 104h3v3h-3zM533 110h3v3h-3zM545 113h3v3h-3zM548 113h3v3h-3zM551 113h3v3h-3zM554 113h3v3h-3zM557 113h3v3h-3zM560 113h3v3h-3zM572 137h3v3h-3zM572 143h3v3h-3zM572 152h3v3h-3zM572 155h3v3h-3zM572 158h3v3h-3zM575 158h3v3h-3zM575 161h3v3h-3zM578 161h3v3h-3zM578 164h3v3h-3zM581 164h3v3h-3zM581 167h3v3h-3zM563 188h3v3h-3zM566 191h3v3h-3zM569 194h3v3h-3zM572 197h3v3h-3zM575 200h3v3h-3z"/>
<path fill="#393939" d="M503 107h3v3h-3zM518 107h3v3h-3zM521 107h3v3h-3zM524 107h3v3h-3zM527 107h3v3h-3zM506 110h3v3h-3zM512 110h3v3h-3zM530 110h3v3h-3zM539 113h3v3h-3zM542 113h3v3h-3zM551 116h3v3h-3zM554 116h3v3h-3zM557 116h3v3h-3zM560 116h3v3h-3zM563 116h3v3h-3zM569 128h3v3h-3zM572 140h3v3h-3zM569 155h3v3h-3zM569 158h3v3h-3zM569 161h3v3h-3zM572 161h3v3h-3zM569 164h3v3h-3zM572 164h3v3h-3zM575 164h3v3h-3zM569 167h3v3h-3zM572 167h3v3h-3zM575 167h3v3h-3zM578 167h3v3h-3zM572 170h3v3h-3zM575 170h3v3h-3zM578 170h3v3h-3zM581 170h3v3h-3zM572 173h3v3h-3zM575 173h3v3h-3zM578 173h3v3h-3zM581 173h3v3h-3zM578 176h3v3h-3zM581 176h3v3h-3zM557 179h3v3h-3zM560 179h3v3h-3zM563 179h3v3h-3zM557 182h3v3h-3zM560 182h3v3h-3zM563 182h3v3h-3zM566 182h3v3h-3zM569 182h3v3h-3zM572 182h3v3h-3zM560 185h3v3h-3zM563 185h3v3h-3zM566 185h3v3h-3zM569 185h3v3h-3zM572 185h3v3h-3zM575 185h3v3h-3zM560 188h3v3h-3zM566 188h3v3h-3zM569 188h3v3h-3zM572 188h3v3h-3zM575 188h3v3h-3zM578 188h3v3h-3zM563 191h3v3h-3zM569 191h3v3h-3zM572 191h3v3h-3zM575 191h3v3h-3zM578 191h3v3h-3zM581 191h3v3h-3zM566 194h3v3h-3zM572 194h3v3h-3zM575 194h3v3h-3zM578 194h3v3h-3zM581 194h3v3h-3zM566 197h3v3h-3zM569 197h3v3h-3zM575 197h3v3h-3zM578 197h3v3h-3zM581 197h3v3h-3zM569 200h3v3h-3zM572 200h3v3h-3zM578 200h3v3h-3zM581 200h3v3h-3zM572 203h3v3h-3zM575 203h3v3h-3zM578 203h3v3h-3zM581 203h3v3h-3zM575 206h3v3h-3zM578 206h3v3h-3zM581 206h3v3h-3zM581 209h3v3h-3z"/>
<path fill="#3a3a3a" d="M491 98h3v3h-3zM494 101h3v3h-3zM497 104h3v3h-3zM500 107h3v3h-3zM536 113h3v3h-3zM545 116h3v3h-3zM548 116h3v3h-3zM554 119h3v3h-3zM557 119h3v3h-3zM560 119h3v3h-3zM563 119h3v3h-3zM566 161h3v3h-3zM566 164h3v3h-3zM563 167h3v3h-3zM566 167h3v3h-3zM563 170h3v3h-3zM566 170h3v3h-3zM569 170h3v3h-3zM560 173h3v3h-3zM563 173h3v3h-3zM566 173h3v3h-3zM569 173h3v3h-3zM557 176h3v3h-3zM560 176h3v3h-3zM563 176h3v3h-3zM566 176h3v3h-3zM569 176h3v3h-3zM572 176h3v3h-3zM575 176h3v3h-3zM566 179h3v3h-3zM569 179h3v3h-3zM572 179h3v3h-3zM575 179h3v3h-3zM578 179h3v3h-3zM581 179h3v3h-3zM554 182h3v3h-3zM575 182h3v3h-3zM578 182h3v3h-3zM581 182h3v3h-3zM557 185h3v3h-3zM578 185h3v3h-3zM581 185h3v3h-3zM557 188h3v3h-3zM581 188h3v3h-3zM560 191h3v3h-3zM560 194h3v3h-3zM563 194h3v3h-3zM563 197h3v3h-3zM566 200h3v3h-3zM566 203h3v3h-3zM569 203h3v3h-3zM569 206h3v3h-3zM572 206h3v3h-3zM572 209h3v3h-3zM575 209h3v3h-3zM578 209h3v3h-3z"/>
<path fill="#3b3b3b" d="M503 110h3v3h-3zM527 110h3v3h-3zM506 113h3v3h-3zM533 113h3v3h-3zM539 116h3v3h-3zM542 116h3v3h-3zM548 119h3v3h-3zM551 119h3v3h-3zM560 122h3v3h-3zM563 122h3v3h-3zM566 122h3v3h-3zM560 170h3v3h-3zM554 185h3v3h-3zM554 188h3v3h-3zM557 191h3v3h-3zM557 194h3v3h-3zM560 197h3v3h-3zM560 200h3v3h-3zM563 200h3v3h-3zM563 203h3v3h-3zM566 206h3v3h-3zM566 209h3v3h-3zM569 209h3v3h-3z"/>
<path fill="#3c3c3c" d="M488 98h3v3h-3zM491 101h3v3h-3zM494 104h3v3h-3zM497 107h3v3h-3zM530 113h3v3h-3zM536 116h3v3h-3zM545 119h3v3h-3zM554 122h3v3h-3zM557 122h3v3h-3zM554 191h3v3h-3zM557 197h3v3h-3zM560 203h3v3h-3zM563 206h3v3h-3zM563 209h3v3h-3z"/>
<path fill="#3d3d3d" d="M485 98h3v3h-3zM488 101h3v3h-3zM500 110h3v3h-3zM524 110h3v3h-3zM503 113h3v3h-3zM509 113h3v3h-3zM533 116h3v3h-3zM542 119h3v3h-3zM551 122h3v3h-3zM560 125h3v3h-3zM563 125h3v3h-3zM566 125h3v3h-3zM569 131h3v3h-3zM569 152h3v3h-3zM551 188h3v3h-3zM554 194h3v3h-3zM557 200h3v3h-3zM560 206h3v3h-3z"/>
<path fill="#3e3e3e" d="M491 104h3v3h-3zM494 107h3v3h-3zM497 110h3v3h-3zM521 110h3v3h-3zM527 113h3v3h-3zM506 116h3v3h-3zM539 119h3v3h-3zM545 122h3v3h-3zM548 122h3v3h-3zM557 125h3v3h-3zM566 128h3v3h-3zM566 158h3v3h-3zM563 164h3v3h-3zM554 179h3v3h-3zM551 191h3v3h-3zM554 197h3v3h-3zM557 203h3v3h-3zM560 209h3v3h-3z"/>
<path fill="#3f3f3f" d="M482 98h3v3h-3zM485 101h3v3h-3zM488 104h3v3h-3zM491 107h3v3h-3zM515 110h3v3h-3zM500 113h3v3h-3zM524 113h3v3h-3zM503 116h3v3h-3zM530 116h3v3h-3zM536 119h3v3h-3zM542 122h3v3h-3zM551 125h3v3h-3zM554 125h3v3h-3zM563 128h3v3h-3zM551 185h3v3h-3zM551 194h3v3h-3zM554 200h3v3h-3zM557 206h3v3h-3z"/>
<path fill="#404040" d="M482 101h3v3h-3zM485 104h3v3h-3zM494 110h3v3h-3zM518 110h3v3h-3zM497 113h3v3h-3zM548 125h3v3h-3zM560 128h3v3h-3zM566 131h3v3h-3zM569 134h3v3h-3zM569 146h3v3h-3zM569 149h3v3h-3zM557 173h3v3h-3zM551 197h3v3h-3zM554 203h3v3h-3zM557 209h3v3h-3z"/>
<path fill="#414141" d="M482 104h3v3h-3zM488 107h3v3h-3zM491 110h3v3h-3zM494 113h3v3h-3zM521 113h3v3h-3zM500 116h3v3h-3zM527 116h3v3h-3zM533 119h3v3h-3zM539 122h3v3h-3zM545 125h3v3h-3zM557 128h3v3h-3zM563 131h3v3h-3zM548 191h3v3h-3z"/>
<path fill="#424242" d="M482 107h3v3h-3zM485 107h3v3h-3zM488 110h3v3h-3zM491 113h3v3h-3zM497 116h3v3h-3zM503 119h3v3h-3zM542 125h3v3h-3zM554 128h3v3h-3zM566 134h3v3h-3zM569 143h3v3h-3zM560 167h3v3h-3zM548 194h3v3h-3zM551 200h3v3h-3zM554 206h3v3h-3z"/>
<path fill="#434343" d="M482 110h3v3h-3zM485 110h3v3h-3zM488 113h3v3h-3zM518 113h3v3h-3zM494 116h3v3h-3zM524 116h3v3h-3zM500 119h3v3h-3zM530 119h3v3h-3zM536 122h3v3h-3zM548 128h3v3h-3zM551 128h3v3h-3zM560 131h3v3h-3zM569 137h3v3h-3zM569 140h3v3h-3zM554 209h3v3h-3z"/>
<path fill="#444444" d="M482 113h3v3h-3zM485 113h3v3h-3zM512 113h3v3h-3zM485 116h3v3h-3zM488 116h3v3h-3zM491 116h3v3h-3zM494 119h3v3h-3zM497 119h3v3h-3zM503 122h3v3h-3zM539 125h3v3h-3zM545 128h3v3h-3zM557 131h3v3h-3zM563 134h3v3h-3zM566 137h3v3h-3zM566 155h3v3h-3zM551 182h3v3h-3zM548 188h3v3h-3zM548 197h3v3h-3zM551 203h3v3h-3z"/>
<path fill="#454545" d="M515 113h3v3h-3zM482 116h3v3h-3zM521 116h3v3h-3zM485 119h3v3h-3zM488 119h3v3h-3zM491 119h3v3h-3zM527 119h3v3h-3zM497 122h3v3h-3zM500 122h3v3h-3zM533 122h3v3h-3zM554 131h3v3h-3zM560 134h3v3h-3zM563 161h3v3h-3zM554 176h3v3h-3z"/>
<path fill="#464646" d="M509 116h3v3h-3zM482 119h3v3h-3zM506 119h3v3h-3zM524 119h3v3h-3zM491 122h3v3h-3zM494 122h3v3h-3zM536 125h3v3h-3zM542 128h3v3h-3zM551 131h3v3h-3zM563 137h3v3h-3zM566 140h3v3h-3zM557 170h3v3h-3zM551 206h3v3h-3z"/>
<path fill="#474747" d="M518 116h3v3h-3zM482 122h3v3h-3zM485 122h3v3h-3zM488 122h3v3h-3zM530 122h3v3h-3zM497 125h3v3h-3zM500 125h3v3h-3zM539 128h3v3h-3zM548 131h3v3h-3zM557 134h3v3h-3zM566 143h3v3h-3zM545 194h3v3h-3zM548 200h3v3h-3z"/>
<path fill="#484848" d="M521 119h3v3h-3zM527 122h3v3h-3zM488 125h3v3h-3zM491 125h3v3h-3zM494 125h3v3h-3zM533 125h3v3h-3zM545 131h3v3h-3zM560 137h3v3h-3zM563 140h3v3h-3zM566 146h3v3h-3z"/>
<path fill="#494949" d="M515 116h3v3h-3zM482 125h3v3h-3zM485 125h3v3h-3zM497 128h3v3h-3zM500 128h3v3h-3zM542 131h3v3h-3zM554 134h3v3h-3zM563 143h3v3h-3zM566 149h3v3h-3zM566 152h3v3h-3zM560 164h3v3h-3zM548 203h3v3h-3zM551 209h3v3h-3z"/>
<path fill="#4a4a4a" d="M518 119h3v3h-3zM524 122h3v3h-3zM530 125h3v3h-3zM488 128h3v3h-3zM491 128h3v3h-3zM494 128h3v3h-3zM536 128h3v3h-3zM551 134h3v3h-3zM557 137h3v3h-3zM560 140h3v3h-3zM563 146h3v3h-3zM545 191h3v3h-3zM545 197h3v3h-3z"/>
<path fill="#4b4b4b" d="M512 116h3v3h-3zM485 128h3v3h-3zM497 131h3v3h-3zM539 131h3v3h-3zM548 134h3v3h-3zM560 143h3v3h-3zM563 149h3v3h-3zM563 158h3v3h-3z"/>
<path fill="#4c4c4c" d="M515 119h3v3h-3zM521 122h3v3h-3zM527 125h3v3h-3zM482 128h3v3h-3zM533 128h3v3h-3zM491 131h3v3h-3zM494 131h3v3h-3zM545 134h3v3h-3zM554 137h3v3h-3zM557 140h3v3h-3zM560 146h3v3h-3zM563 152h3v3h-3zM554 173h3v3h-3zM551 179h3v3h-3zM548 185h3v3h-3zM548 206h3v3h-3z"/>
<path fill="#4d4d4d" d="M518 122h3v3h-3zM503 125h3v3h-3zM488 131h3v3h-3zM536 131h3v3h-3zM542 134h3v3h-3zM551 137h3v3h-3zM557 143h3v3h-3zM560 149h3v3h-3zM563 155h3v3h-3zM545 200h3v3h-3z"/>
<path fill="#4e4e4e" d="M512 119h3v3h-3zM524 125h3v3h-3zM530 128h3v3h-3zM485 131h3v3h-3zM497 134h3v3h-3zM548 137h3v3h-3zM554 140h3v3h-3zM557 146h3v3h-3zM560 152h3v3h-3zM560 155h3v3h-3zM557 167h3v3h-3z"/>
<path fill="#4f4f4f" d="M506 122h3v3h-3zM515 122h3v3h-3zM521 125h3v3h-3zM527 128h3v3h-3zM533 131h3v3h-3zM494 134h3v3h-3zM539 134h3v3h-3zM554 143h3v3h-3zM557 149h3v3h-3zM560 158h3v3h-3zM542 194h3v3h-3zM548 209h3v3h-3z"/>
<path fill="#505050" d="M509 119h3v3h-3zM482 131h3v3h-3zM491 134h3v3h-3zM536 134h3v3h-3zM545 137h3v3h-3zM551 140h3v3h-3zM557 152h3v3h-3zM557 155h3v3h-3zM560 161h3v3h-3zM542 197h3v3h-3zM545 203h3v3h-3z"/>
<path fill="#515151" d="M512 122h3v3h-3zM518 125h3v3h-3zM524 128h3v3h-3zM530 131h3v3h-3zM488 134h3v3h-3zM542 137h3v3h-3zM548 140h3v3h-3zM551 143h3v3h-3zM554 146h3v3h-3zM554 149h3v3h-3zM557 158h3v3h-3z"/>
<path fill="#525252" d="M515 125h3v3h-3zM521 128h3v3h-3zM527 131h3v3h-3zM533 134h3v3h-3zM494 137h3v3h-3zM539 137h3v3h-3zM545 140h3v3h-3zM551 146h3v3h-3zM554 152h3v3h-3zM557 161h3v3h-3zM557 164h3v3h-3zM551 176h3v3h-3zM545 188h3v3h-3z"/>
<path fill="#535353" d="M509 122h3v3h-3zM500 131h3v3h-3zM485 134h3v3h-3zM491 137h3v3h-3zM548 143h3v3h-3zM551 149h3v3h-3zM554 155h3v3h-3zM554 158h3v3h-3zM554 170h3v3h-3zM548 182h3v3h-3zM542 200h3v3h-3zM545 206h3v3h-3z"/>
<path fill="#545454" d="M512 125h3v3h-3zM518 128h3v3h-3zM524 131h3v3h-3zM530 134h3v3h-3zM536 137h3v3h-3zM542 140h3v3h-3zM545 143h3v3h-3zM548 146h3v3h-3zM551 152h3v3h-3zM554 161h3v3h-3zM554 164h3v3h-3z"/>
<path fill="#555555" d="M515 128h3v3h-3zM521 131h3v3h-3zM482 134h3v3h-3zM527 134h3v3h-3zM488 137h3v3h-3zM533 137h3v3h-3zM494 140h3v3h-3zM539 140h3v3h-3zM548 149h3v3h-3zM551 155h3v3h-3zM551 158h3v3h-3zM554 167h3v3h-3zM545 209h3v3h-3z"/>
<path fill="#565656" d="M509 125h3v3h-3zM524 134h3v3h-3zM530 137h3v3h-3zM536 140h3v3h-3zM542 143h3v3h-3zM545 146h3v3h-3zM548 152h3v3h-3zM551 161h3v3h-3zM539 197h3v3h-3zM542 203h3v3h-3z"/>
<path fill="#575757" d="M506 125h3v3h-3zM503 128h3v3h-3zM512 128h3v3h-3zM518 131h3v3h-3zM485 137h3v3h-3zM527 137h3v3h-3zM491 140h3v3h-3zM533 140h3v3h-3zM539 143h3v3h-3zM542 146h3v3h-3zM545 149h3v3h-3zM548 155h3v3h-3zM551 164h3v3h-3zM551 167h3v3h-3zM551 170h3v3h-3zM551 173h3v3h-3zM542 191h3v3h-3z"/>
<path fill="#585858" d="M509 128h3v3h-3zM515 131h3v3h-3zM521 134h3v3h-3zM530 140h3v3h-3zM536 143h3v3h-3zM545 152h3v3h-3zM548 158h3v3h-3zM539 200h3v3h-3zM542 206h3v3h-3z"/>
<path fill="#595959" d="M518 134h3v3h-3zM524 137h3v3h-3zM488 140h3v3h-3zM527 140h3v3h-3zM533 143h3v3h-3zM539 146h3v3h-3zM542 149h3v3h-3zM545 155h3v3h-3zM548 161h3v3h-3zM548 164h3v3h-3zM548 176h3v3h-3zM548 179h3v3h-3zM542 209h3v3h-3z"/>
<path fill="#5a5a5a" d="M506 128h3v3h-3zM512 131h3v3h-3zM482 137h3v3h-3zM497 137h3v3h-3zM521 137h3v3h-3zM491 143h3v3h-3zM530 143h3v3h-3zM536 146h3v3h-3zM539 149h3v3h-3zM542 152h3v3h-3zM545 158h3v3h-3zM548 167h3v3h-3zM548 170h3v3h-3zM548 173h3v3h-3zM539 203h3v3h-3z"/>
<path fill="#5b5b5b" d="M509 131h3v3h-3zM515 134h3v3h-3zM485 140h3v3h-3zM524 140h3v3h-3zM527 143h3v3h-3zM533 146h3v3h-3zM542 155h3v3h-3zM545 161h3v3h-3zM536 200h3v3h-3zM539 206h3v3h-3z"/>
<path fill="#5c5c5c" d="M506 131h3v3h-3zM512 134h3v3h-3zM518 137h3v3h-3zM521 140h3v3h-3zM488 143h3v3h-3zM530 146h3v3h-3zM536 149h3v3h-3zM539 152h3v3h-3zM545 164h3v3h-3zM545 167h3v3h-3zM545 170h3v3h-3zM545 173h3v3h-3zM545 176h3v3h-3zM545 179h3v3h-3zM545 182h3v3h-3zM545 185h3v3h-3zM536 203h3v3h-3zM539 209h3v3h-3z"/>
<path fill="#5d5d5d" d="M503 131h3v3h-3zM515 137h3v3h-3zM482 140h3v3h-3zM524 143h3v3h-3zM491 146h3v3h-3zM527 146h3v3h-3zM533 149h3v3h-3zM536 152h3v3h-3zM539 155h3v3h-3zM542 158h3v3h-3zM536 206h3v3h-3z"/>
<path fill="#5e5e5e" d="M500 134h3v3h-3zM509 134h3v3h-3zM518 140h3v3h-3zM485 143h3v3h-3zM521 143h3v3h-3zM530 149h3v3h-3zM542 161h3v3h-3zM539 194h3v3h-3zM533 200h3v3h-3zM533 203h3v3h-3zM536 209h3v3h-3z"/>
<path fill="#5f5f5f" d="M506 134h3v3h-3zM512 137h3v3h-3zM515 140h3v3h-3zM482 143h3v3h-3zM488 146h3v3h-3zM524 146h3v3h-3zM533 152h3v3h-3zM536 155h3v3h-3zM539 158h3v3h-3zM542 164h3v3h-3zM542 173h3v3h-3zM542 176h3v3h-3zM542 179h3v3h-3zM542 182h3v3h-3zM530 203h3v3h-3zM530 206h3v3h-3zM533 206h3v3h-3zM533 209h3v3h-3z"/>
<path fill="#606060" d="M503 134h3v3h-3zM509 137h3v3h-3zM518 143h3v3h-3zM485 146h3v3h-3zM521 146h3v3h-3zM485 149h3v3h-3zM488 149h3v3h-3zM527 149h3v3h-3zM488 152h3v3h-3zM542 167h3v3h-3zM542 170h3v3h-3zM542 185h3v3h-3zM536 197h3v3h-3zM521 203h3v3h-3zM524 203h3v3h-3zM527 203h3v3h-3zM521 206h3v3h-3zM524 206h3v3h-3zM527 206h3v3h-3zM521 209h3v3h-3zM524 209h3v3h-3zM527 209h3v3h-3zM530 209h3v3h-3z"/>
<path fill="#616161" d="M506 137h3v3h-3zM512 140h3v3h-3zM482 146h3v3h-3zM482 149h3v3h-3zM524 149h3v3h-3zM482 152h3v3h-3zM485 152h3v3h-3zM530 152h3v3h-3zM482 155h3v3h-3zM485 155h3v3h-3zM488 155h3v3h-3zM533 155h3v3h-3zM482 158h3v3h-3zM485 158h3v3h-3zM536 158h3v3h-3zM482 161h3v3h-3zM485 161h3v3h-3zM539 161h3v3h-3zM482 164h3v3h-3zM485 164h3v3h-3zM482 167h3v3h-3zM485 167h3v3h-3zM482 170h3v3h-3zM485 170h3v3h-3zM482 173h3v3h-3zM485 173h3v3h-3zM488 173h3v3h-3zM482 176h3v3h-3zM485 176h3v3h-3zM488 176h3v3h-3zM482 179h3v3h-3zM485 179h3v3h-3zM488 179h3v3h-3zM482 182h3v3h-3zM485 182h3v3h-3zM488 182h3v3h-3zM482 185h3v3h-3zM485 185h3v3h-3zM488 185h3v3h-3zM491 185h3v3h-3zM482 188h3v3h-3zM485 188h3v3h-3zM488 188h3v3h-3zM491 188h3v3h-3zM542 188h3v3h-3zM482 191h3v3h-3zM485 191h3v3h-3zM488 191h3v3h-3zM491 191h3v3h-3zM494 191h3v3h-3zM482 194h3v3h-3zM485 194h3v3h-3zM488 194h3v3h-3zM491 194h3v3h-3zM494 194h3v3h-3zM497 194h3v3h-3zM482 197h3v3h-3zM485 197h3v3h-3zM488 197h3v3h-3zM491 197h3v3h-3zM494 197h3v3h-3zM497 197h3v3h-3zM500 197h3v3h-3zM503 197h3v3h-3zM482 200h3v3h-3zM485 200h3v3h-3zM488 200h3v3h-3zM491 200h3v3h-3zM494 200h3v3h-3zM497 200h3v3h-3zM500 200h3v3h-3zM503 200h3v3h-3zM506 200h3v3h-3zM482 203h3v3h-3zM485 203h3v3h-3zM488 203h3v3h-3zM491 203h3v3h-3zM494 203h3v3h-3zM497 203h3v3h-3zM500 203h3v3h-3zM503 203h3v3h-3zM506 203h3v3h-3zM509 203h3v3h-3zM512 203h3v3h-3zM515 203h3v3h-3zM518 203h3v3h-3zM482 206h3v3h-3zM485 206h3v3h-3zM488 206h3v3h-3zM491 206h3v3h-3zM494 206h3v3h-3zM497 206h3v3h-3zM500 206h3v3h-3zM503 206h3v3h-3zM506 206h3v3h-3zM509 206h3v3h-3zM512 206h3v3h-3zM515 206h3v3h-3zM518 206h3v3h-3zM482 209h3v3h-3zM485 209h3v3h-3zM488 209h3v3h-3zM491 209h3v3h-3zM494 209h3v3h-3zM497 209h3v3h-3zM500 209h3v3h-3zM503 209h3v3h-3zM506 209h3v3h-3zM509 209h3v3h-3zM512 209h3v3h-3zM515 209h3v3h-3zM518 209h3v3h-3z"/>
<path fill="#626262" d="M515 143h3v3h-3zM518 146h3v3h-3zM527 152h3v3h-3zM539 164h3v3h-3z"/>
<path fill="#636363" d="M503 137h3v3h-3zM509 140h3v3h-3zM512 143h3v3h-3zM521 149h3v3h-3zM530 155h3v3h-3zM539 167h3v3h-3zM539 170h3v3h-3zM539 173h3v3h-3zM539 176h3v3h-3zM539 179h3v3h-3zM509 200h3v3h-3z"/>
<path fill="#646464" d="M500 137h3v3h-3zM506 140h3v3h-3zM494 143h3v3h-3zM515 146h3v3h-3zM524 152h3v3h-3zM533 158h3v3h-3zM536 161h3v3h-3zM539 182h3v3h-3z"/>
<path fill="#656565" d="M497 140h3v3h-3zM503 140h3v3h-3zM509 143h3v3h-3zM491 149h3v3h-3zM518 149h3v3h-3zM527 155h3v3h-3zM536 164h3v3h-3zM539 185h3v3h-3zM494 188h3v3h-3z"/>
<path fill="#666666" d="M506 143h3v3h-3zM512 146h3v3h-3zM521 152h3v3h-3zM530 158h3v3h-3zM488 161h3v3h-3zM533 161h3v3h-3z"/>
<path fill="#676767" d="M500 140h3v3h-3zM515 149h3v3h-3zM524 155h3v3h-3zM488 158h3v3h-3zM488 164h3v3h-3zM536 167h3v3h-3zM488 170h3v3h-3zM536 170h3v3h-3zM536 173h3v3h-3zM536 176h3v3h-3zM536 179h3v3h-3zM539 188h3v3h-3zM530 200h3v3h-3z"/>
<path fill="#686868" d="M503 143h3v3h-3zM509 146h3v3h-3zM518 152h3v3h-3zM527 158h3v3h-3zM533 164h3v3h-3zM536 182h3v3h-3zM497 191h3v3h-3zM539 191h3v3h-3z"/>
<path fill="#696969" d="M506 146h3v3h-3zM512 149h3v3h-3zM521 155h3v3h-3zM530 161h3v3h-3zM488 167h3v3h-3zM491 182h3v3h-3zM500 194h3v3h-3zM512 200h3v3h-3z"/>
<path fill="#6a6a6a" d="M500 143h3v3h-3zM515 152h3v3h-3zM524 158h3v3h-3zM533 167h3v3h-3zM536 185h3v3h-3z"/>
<path fill="#6b6b6b" d="M503 146h3v3h-3zM509 149h3v3h-3zM518 155h3v3h-3zM527 161h3v3h-3zM530 164h3v3h-3zM533 170h3v3h-3zM533 173h3v3h-3zM533 176h3v3h-3zM533 197h3v3h-3zM527 200h3v3h-3z"/>
<path fill="#6c6c6c" d="M497 143h3v3h-3zM512 152h3v3h-3zM521 158h3v3h-3zM533 179h3v3h-3zM536 188h3v3h-3zM536 194h3v3h-3zM506 197h3v3h-3zM515 200h3v3h-3z"/>
<path fill="#6d6d6d" d="M500 146h3v3h-3zM506 149h3v3h-3zM515 155h3v3h-3zM524 161h3v3h-3zM530 167h3v3h-3zM533 182h3v3h-3zM524 200h3v3h-3z"/>
<path fill="#6e6e6e" d="M491 152h3v3h-3zM509 152h3v3h-3zM527 164h3v3h-3zM530 170h3v3h-3zM491 179h3v3h-3zM494 185h3v3h-3z"/>
<path fill="#6f6f6f" d="M494 146h3v3h-3zM503 149h3v3h-3zM518 158h3v3h-3zM521 161h3v3h-3zM530 173h3v3h-3zM530 176h3v3h-3zM533 185h3v3h-3zM536 191h3v3h-3z"/>
<path fill="#707070" d="M497 146h3v3h-3zM506 152h3v3h-3zM512 155h3v3h-3zM524 164h3v3h-3zM527 167h3v3h-3zM530 179h3v3h-3zM518 200h3v3h-3zM521 200h3v3h-3z"/>
<path fill="#717171" d="M500 149h3v3h-3zM515 158h3v3h-3zM527 170h3v3h-3zM530 182h3v3h-3zM533 188h3v3h-3zM503 194h3v3h-3z"/>
<path fill="#727272" d="M503 152h3v3h-3zM509 155h3v3h-3zM518 161h3v3h-3zM521 164h3v3h-3zM524 167h3v3h-3zM527 173h3v3h-3zM527 176h3v3h-3zM530 185h3v3h-3zM497 188h3v3h-3z"/>
<path fill="#737373" d="M497 149h3v3h-3zM506 155h3v3h-3zM512 158h3v3h-3zM524 170h3v3h-3zM491 176h3v3h-3zM527 179h3v3h-3zM533 191h3v3h-3z"/>
<path fill="#747474" d="M494 149h3v3h-3zM500 152h3v3h-3zM515 161h3v3h-3zM518 164h3v3h-3zM521 167h3v3h-3zM524 173h3v3h-3zM527 182h3v3h-3zM530 188h3v3h-3zM533 194h3v3h-3z"/>
<path fill="#757575" d="M497 152h3v3h-3zM503 155h3v3h-3zM509 158h3v3h-3zM512 161h3v3h-3zM521 170h3v3h-3zM524 176h3v3h-3zM524 179h3v3h-3zM527 185h3v3h-3zM500 191h3v3h-3zM530 191h3v3h-3zM530 197h3v3h-3z"/>
<path fill="#767676" d="M494 152h3v3h-3zM491 155h3v3h-3zM500 155h3v3h-3zM506 158h3v3h-3zM515 164h3v3h-3zM518 167h3v3h-3zM521 173h3v3h-3zM524 182h3v3h-3zM527 188h3v3h-3zM530 194h3v3h-3zM509 197h3v3h-3z"/>
<path fill="#777777" d="M497 155h3v3h-3zM503 158h3v3h-3zM509 161h3v3h-3zM512 164h3v3h-3zM515 167h3v3h-3zM518 170h3v3h-3zM491 173h3v3h-3zM518 173h3v3h-3zM521 176h3v3h-3zM521 179h3v3h-3zM521 182h3v3h-3zM524 185h3v3h-3zM524 188h3v3h-3zM524 191h3v3h-3zM527 191h3v3h-3zM527 194h3v3h-3zM527 197h3v3h-3z"/>
<path fill="#787878" d="M494 155h3v3h-3zM494 158h3v3h-3zM497 158h3v3h-3zM500 158h3v3h-3zM500 161h3v3h-3zM503 161h3v3h-3zM506 161h3v3h-3zM509 164h3v3h-3zM512 167h3v3h-3zM515 170h3v3h-3zM515 173h3v3h-3zM518 176h3v3h-3zM518 179h3v3h-3zM518 182h3v3h-3zM518 185h3v3h-3zM521 185h3v3h-3zM518 188h3v3h-3zM521 188h3v3h-3zM518 191h3v3h-3zM521 191h3v3h-3zM518 194h3v3h-3zM521 194h3v3h-3zM524 194h3v3h-3zM518 197h3v3h-3zM521 197h3v3h-3zM524 197h3v3h-3z"/>
<path fill="#797979" d="M491 158h3v3h-3zM491 161h3v3h-3zM494 161h3v3h-3zM497 161h3v3h-3zM491 164h3v3h-3zM494 164h3v3h-3zM497 164h3v3h-3zM500 164h3v3h-3zM503 164h3v3h-3zM506 164h3v3h-3zM491 167h3v3h-3zM494 167h3v3h-3zM497 167h3v3h-3zM500 167h3v3h-3zM503 167h3v3h-3zM506 167h3v3h-3zM509 167h3v3h-3zM491 170h3v3h-3zM494 170h3v3h-3zM497 170h3v3h-3zM500 170h3v3h-3zM506 170h3v3h-3zM509 170h3v3h-3zM512 170h3v3h-3zM494 173h3v3h-3zM497 173h3v3h-3zM500 173h3v3h-3zM509 173h3v3h-3zM512 173h3v3h-3zM494 176h3v3h-3zM497 176h3v3h-3zM500 176h3v3h-3zM509 176h3v3h-3zM512 176h3v3h-3zM515 176h3v3h-3zM494 179h3v3h-3zM497 179h3v3h-3zM500 179h3v3h-3zM503 179h3v3h-3zM506 179h3v3h-3zM509 179h3v3h-3zM512 179h3v3h-3zM515 179h3v3h-3zM494 182h3v3h-3zM497 182h3v3h-3zM500 182h3v3h-3zM503 182h3v3h-3zM506 182h3v3h-3zM509 182h3v3h-3zM512 182h3v3h-3zM515 182h3v3h-3zM497 185h3v3h-3zM500 185h3v3h-3zM503 185h3v3h-3zM506 185h3v3h-3zM509 185h3v3h-3zM512 185h3v3h-3zM515 185h3v3h-3zM500 188h3v3h-3zM503 188h3v3h-3zM506 188h3v3h-3zM509 188h3v3h-3zM512 188h3v3h-3zM515 188h3v3h-3zM503 191h3v3h-3zM506 191h3v3h-3zM509 191h3v3h-3zM512 191h3v3h-3zM515 191h3v3h-3zM506 194h3v3h-3zM509 194h3v3h-3zM512 194h3v3h-3zM515 194h3v3h-3zM512 197h3v3h-3zM515 197h3v3h-3z"/>
<path fill="#7a7a7a" d="M503 170h3v3h-3zM503 173h3v3h-3zM506 173h3v3h-3zM503 176h3v3h-3zM506 176h3v3h-3z"/>
</g></g>
<g id="elines" shape-rendering="crispEdges">
<polyline points="27.2,60.2 30.2,67 33.2,80.5 35.5,94 37.4,110 37.5,140 37.4,165 36.2,174 34.7,187.5 32.5,202.5 30.2,214.5 28,225 21.2,251.5" fill="none" stroke="#000" stroke-width="1"/>
<polyline points="21.2,76.7 30.2,67" fill="none" stroke="#000" stroke-width="1"/>
<polyline points="41.2,59.2 43.7,61.7 44.8,64 42.7,67 46,66.2 46.7,63.2 49.7,62.2 53.5,63.2 54.7,65.5 54.2,73.7 53.5,77.5 51.2,78.2 50.5,83.5 48.7,87.2 49.3,94 48.7,103 48.7,110 49.3,113 47.2,115.2 43.7,116.7 42.2,118.2 39.2,119 36.7,122 35.5,124.2 39.2,125.7 40.7,128.7 39.7,132.5 40.7,135.5 45.2,139.2 46.7,140 48.2,143.7 49.7,147.5 52,151.2 53.5,155 54.2,161 54.7,165 53.5,174 54.2,178.5 52.7,189 51.2,199.5 52.7,208.5 53.5,213 51.2,219 49.3,222.2 44.8,230.5 46,236.5 47.2,238.7 47.2,246.2 45.2,248.5 42.2,250.7 38.5,255.2 36.6,259.7 36.6,268.1 34.7,268.6 33.6,270.5 34.4,272.7 33.4,274.6 33.4,276.1 34.5,277.9 33.6,279.1 32.1,280.3 30,279.4 28.4,280.3 27.4,281.4 27.4,283.6" fill="none" stroke="#000" stroke-width="1"/>
<polyline points="89.5,59.5 91.6,79 94,115 94.6,142 93.4,166 92.4,176 90.6,194 85.5,230 79.5,260 72.6,283.5" fill="none" stroke="#000" stroke-width="1"/>
<polyline points="159.4,61.6 159.4,66.25 160.4,67.25 160.4,75.25 161.4,76 161.4,85 162.1,115 162.1,155.6 161.5,175 160,182 157,206 152.5,245 143.5,285.6" fill="none" stroke="#000" stroke-width="1"/>
<polyline points="235.4,66.4 237.5,94 238.4,130 238.4,154 236.6,175 235.4,194 230,230 222.5,276.6" fill="none" stroke="#000" stroke-width="1"/>
<polyline points="21.2,171.4 35,172.4 53,173.4 70,174.3 92.4,176 120,177.5 135,178.4 160,180.5 190,183.5 200,183.8 236,186.5 241.4,187.4" fill="none" stroke="#000" stroke-width="1"/>
<polygon points="163.25,73.25 165,73.75 167.5,72.5 169.5,71.25 170.75,72.5 167,76.5 167.25,80 165.5,80 165,78.5 163.75,77 163.5,75" fill="none" stroke="#000" stroke-width="1"/>
</g>
<g id="cbar" shape-rendering="crispEdges">
<rect x="286" y="81" width="19" height="9" fill="#000033"/>
<rect x="286" y="90" width="19" height="8" fill="#330033"/>
<rect x="286" y="98" width="19" height="8" fill="#550033"/>
<rect x="286" y="106" width="19" height="9" fill="#800033"/>
<rect x="286" y="115" width="19" height="8" fill="#a00033"/>
<rect x="286" y="123" width="19" height="8" fill="#d00030"/>
<rect x="286" y="131" width="19" height="9" fill="#ff0000"/>
<rect x="286" y="140" width="19" height="8" fill="#ff8000"/>
<rect x="286" y="148" width="19" height="8" fill="#ffb000"/>
<rect x="286" y="156" width="19" height="8" fill="#ffd000"/>
<rect x="286" y="164" width="19" height="9" fill="#ffee00"/>
<rect x="286" y="173" width="19" height="8" fill="#ffff80"/>
<rect x="286" y="181" width="19" height="8" fill="#f8ff00"/>
<rect x="286" y="189" width="19" height="9" fill="#e0ff00"/>
<rect x="286" y="198" width="19" height="8" fill="#c0ff00"/>
<rect x="286" y="206" width="19" height="8" fill="#90ff00"/>
<rect x="286" y="214" width="19" height="8" fill="#60f000"/>
<rect x="286" y="222" width="19" height="9" fill="#40e040"/>
<rect x="286" y="231" width="19" height="8" fill="#30d870"/>
<rect x="286" y="239" width="19" height="8" fill="#30d8d0"/>
<rect x="286" y="247" width="19" height="9" fill="#a0f0f0"/>
<rect x="286" y="256" width="19" height="8" fill="#d0e0e0"/>
<rect x="286" y="264" width="19" height="8" fill="#e8f0e8"/>
<rect x="286" y="272" width="19" height="8" fill="#ffffff"/>
<rect x="285.5" y="80.5" width="20" height="200" fill="none" stroke="#000" stroke-width="1"/>
<line x1="305" y1="280.5" x2="308" y2="280.5" stroke="#000"/>
<line x1="305" y1="269.5" x2="308" y2="269.5" stroke="#000"/>
<line x1="305" y1="260.5" x2="308" y2="260.5" stroke="#000"/>
<line x1="305" y1="254.5" x2="308" y2="254.5" stroke="#000"/>
<line x1="305" y1="248.5" x2="308" y2="248.5" stroke="#000"/>
<line x1="305" y1="243.5" x2="308" y2="243.5" stroke="#000"/>
<line x1="305" y1="238.5" x2="308" y2="238.5" stroke="#000"/>
<line x1="305" y1="234.5" x2="311" y2="234.5" stroke="#000"/>
<line x1="305" y1="209.5" x2="308" y2="209.5" stroke="#000"/>
<line x1="305" y1="193.5" x2="308" y2="193.5" stroke="#000"/>
<line x1="305" y1="183.5" x2="308" y2="183.5" stroke="#000"/>
<line x1="305" y1="174.5" x2="308" y2="174.5" stroke="#000"/>
<line x1="305" y1="167.5" x2="308" y2="167.5" stroke="#000"/>
<line x1="305" y1="162.5" x2="308" y2="162.5" stroke="#000"/>
<line x1="305" y1="157.5" x2="308" y2="157.5" stroke="#000"/>
<line x1="305" y1="152.5" x2="308" y2="152.5" stroke="#000"/>
<line x1="305" y1="148.5" x2="311" y2="148.5" stroke="#000"/>
<line x1="305" y1="122.5" x2="308" y2="122.5" stroke="#000"/>
<line x1="305" y1="107.5" x2="308" y2="107.5" stroke="#000"/>
<line x1="305" y1="96.5" x2="308" y2="96.5" stroke="#000"/>
<line x1="305" y1="88.5" x2="308" y2="88.5" stroke="#000"/>
<line x1="305" y1="81.5" x2="308" y2="81.5" stroke="#000"/>
</g>
<g id="polar" shape-rendering="crispEdges">
<ellipse cx="465" cy="170.5" rx="120.5" ry="120" fill="none" stroke="#000"/>
<ellipse cx="465" cy="170.5" rx="90.5" ry="90" fill="none" stroke="#000"/>
<ellipse cx="465" cy="170.5" rx="60.5" ry="60" fill="none" stroke="#000"/>
<ellipse cx="465" cy="170.5" rx="30.5" ry="30" fill="none" stroke="#000"/>
<line x1="344" y1="170.5" x2="586" y2="170.5" stroke="#000"/>
<line x1="465.5" y1="50" x2="465.5" y2="291" stroke="#000"/>
<line x1="380.5" y1="85.5" x2="550.5" y2="255.5" stroke="#000"/>
<line x1="380.5" y1="255.5" x2="550.5" y2="85.5" stroke="#000"/>
</g>
<g id="tl" shape-rendering="crispEdges">
<rect x="60.5" y="310.5" width="509" height="28" fill="none" stroke="#000"/>
<line x1="188.5" y1="311" x2="188.5" y2="312.5" stroke="#000"/>
<line x1="188.5" y1="336.5" x2="188.5" y2="338" stroke="#000"/>
<line x1="316.5" y1="311" x2="316.5" y2="312.5" stroke="#000"/>
<line x1="316.5" y1="336.5" x2="316.5" y2="338" stroke="#000"/>
<line x1="442.5" y1="311" x2="442.5" y2="312.5" stroke="#000"/>
<line x1="442.5" y1="336.5" x2="442.5" y2="338" stroke="#000"/>
<polyline points="61,338.5 72,338.5 78,336.9 88,334.5 98,332.1 107.4,329.5 118,327.1 138,322.9 158,319.1 170,316.9 176,315.9 185,314.9 195,313.9 207,312.9 221,312 221,311.5 250,311.5 251,310.5 274,310.5 275,311.5 302,311.5 303,312.5 316,312.7 330,314.9 348,316.9 368,319.5 384,321.9 398,324.9 410,326.5 430,332.5 442,336.9 450,338.5 465,338.5 474,336.5 490,331.5 500,330.1 520,326.1 540,321.5 560,318.1 569,316.5" fill="none" stroke="#000" stroke-width="1.1"/>
<line x1="107.5" y1="311" x2="107.5" y2="338" stroke="#ff0000" stroke-width="1"/>
</g>
<text class="h" style="font-size:19.5px" x="49.0" y="24" textLength="174.88" lengthAdjust="spacingAndGlyphs">Ultraviolet Imager</text>
<text class="h" style="font-size:19.5px" x="276.0" y="24" textLength="101.75" lengthAdjust="spacingAndGlyphs">19 Oct 07</text>
<text class="h" style="font-size:19.5px" x="429.0" y="24" textLength="121.97" lengthAdjust="spacingAndGlyphs">02:12:14 UT</text>
<text class="s" style="font-size:14px" x="41.0" y="357" textLength="38.05" lengthAdjust="spacingAndGlyphs">00:00</text>
<text class="s" style="font-size:14px" x="168.0" y="357" textLength="39.05" lengthAdjust="spacingAndGlyphs">06:00</text>
<text class="s" style="font-size:14px" x="296.0" y="357" textLength="38.05" lengthAdjust="spacingAndGlyphs">12:00</text>
<text class="s" style="font-size:14px" x="424.0" y="357" textLength="37.05" lengthAdjust="spacingAndGlyphs">18:00</text>
<text class="s" style="font-size:14px" x="550.0" y="357" textLength="38.05" lengthAdjust="spacingAndGlyphs">23:59</text>
<text class="s" style="font-size:14px" x="10.0" y="377" textLength="60.36" lengthAdjust="spacingAndGlyphs">Flt: LBHL</text>
<text class="s" style="font-size:14px" x="10.0" y="395" textLength="52.27" lengthAdjust="spacingAndGlyphs">IP: 36.0</text>
<text class="s" style="font-size:14px" x="125.0" y="377" textLength="73.38" lengthAdjust="spacingAndGlyphs">Door: Open</text>
<text class="s" style="font-size:14px" x="125.0" y="395" textLength="55.94" lengthAdjust="spacingAndGlyphs">Gain: 14</text>
<text class="s" style="font-size:14px" x="245.0" y="377" textLength="91.92" lengthAdjust="spacingAndGlyphs">Mode: Normal</text>
<text class="s" style="font-size:14px" x="245.0" y="395" textLength="28.8" lengthAdjust="spacingAndGlyphs">Dsp:</text>
<text class="s" style="font-size:14px" x="294.0" y="395" textLength="31.64" lengthAdjust="spacingAndGlyphs">&#8722;5.9</text>
<text class="s" style="font-size:14px" x="365.0" y="377" textLength="95.48" lengthAdjust="spacingAndGlyphs">GC Alt: 4.5 Re</text>
<text class="s" style="font-size:14px" x="365.0" y="395" textLength="51.27" lengthAdjust="spacingAndGlyphs">Seq: 39</text>
<text class="s" style="font-size:14px" x="485.0" y="377" textLength="33.25" lengthAdjust="spacingAndGlyphs">GLat:</text>
<text class="s" style="font-size:14px" x="525.0" y="377" textLength="40.44" lengthAdjust="spacingAndGlyphs">&#8722;53.7</text>
<text class="s" style="font-size:14px" x="485.0" y="395" textLength="37.14" lengthAdjust="spacingAndGlyphs">GLon:</text>
<text class="s" style="font-size:14px" x="535.0" y="395" textLength="29.25" lengthAdjust="spacingAndGlyphs">88.7</text>
<text class="h" style="font-size:12.5px" x="69.0" y="305" textLength="132.56" lengthAdjust="spacingAndGlyphs">Geographic Lat/Lon</text>
<text class="h" style="font-size:12.5px" x="414.0" y="306" textLength="101.52" lengthAdjust="spacingAndGlyphs">Apex MLat/MLT</text>
<text class="s" style="font-size:13px" x="35.0" y="320" textLength="20.08" lengthAdjust="spacingAndGlyphs">9.0</text>
<text class="s" style="font-size:13px" x="36.0" y="339" textLength="20.08" lengthAdjust="spacingAndGlyphs">1.8</text>
<text class="s" style="font-size:13px" x="469.0" y="59" textLength="15.47" lengthAdjust="spacingAndGlyphs">12</text>
<text class="s" style="font-size:13px" x="348.0" y="168" textLength="15.47" lengthAdjust="spacingAndGlyphs">18</text>
<text class="s" style="font-size:13px" x="577.0" y="168" textLength="7.23" lengthAdjust="spacingAndGlyphs">6</text>
<text class="s" style="font-size:13px" x="468.0" y="288" textLength="7.23" lengthAdjust="spacingAndGlyphs">0</text>
<text class="s" style="font-size:13px" x="535.0" y="110" textLength="16.47" lengthAdjust="spacingAndGlyphs">60</text>
<text class="s" style="font-size:13px" x="514.0" y="131" textLength="15.47" lengthAdjust="spacingAndGlyphs">70</text>
<text class="s" style="font-size:13px" x="492.0" y="153" textLength="16.47" lengthAdjust="spacingAndGlyphs">80</text>
<text class="c" style="font-size:10.5px" x="313.0" y="152" textLength="19.53" lengthAdjust="spacingAndGlyphs">100</text>
<text class="c" style="font-size:10.5px" x="313.0" y="239" textLength="12.69" lengthAdjust="spacingAndGlyphs">10</text>
<text class="s" style="font-size:13px" transform="translate(23.8,344.4) rotate(-90)" x="0" y="0" textLength="39.6" lengthAdjust="spacingAndGlyphs">GC Alt</text>
<g transform="translate(278.3,239.7) rotate(-90)">
<text style="font-size:12.7px" x="0" y="0" textLength="70.1" lengthAdjust="spacingAndGlyphs">photon cm</text>
<text style="font-size:9.8px" x="72" y="-6.3" textLength="10.4" lengthAdjust="spacingAndGlyphs">&#8722;2</text>
<text style="font-size:12.7px" x="83.9" y="0" textLength="5.7" lengthAdjust="spacingAndGlyphs">s</text>
<text style="font-size:9.8px" x="91" y="-6.3" textLength="10" lengthAdjust="spacingAndGlyphs">&#8722;1</text>
</g>

</svg>
</body></html>
